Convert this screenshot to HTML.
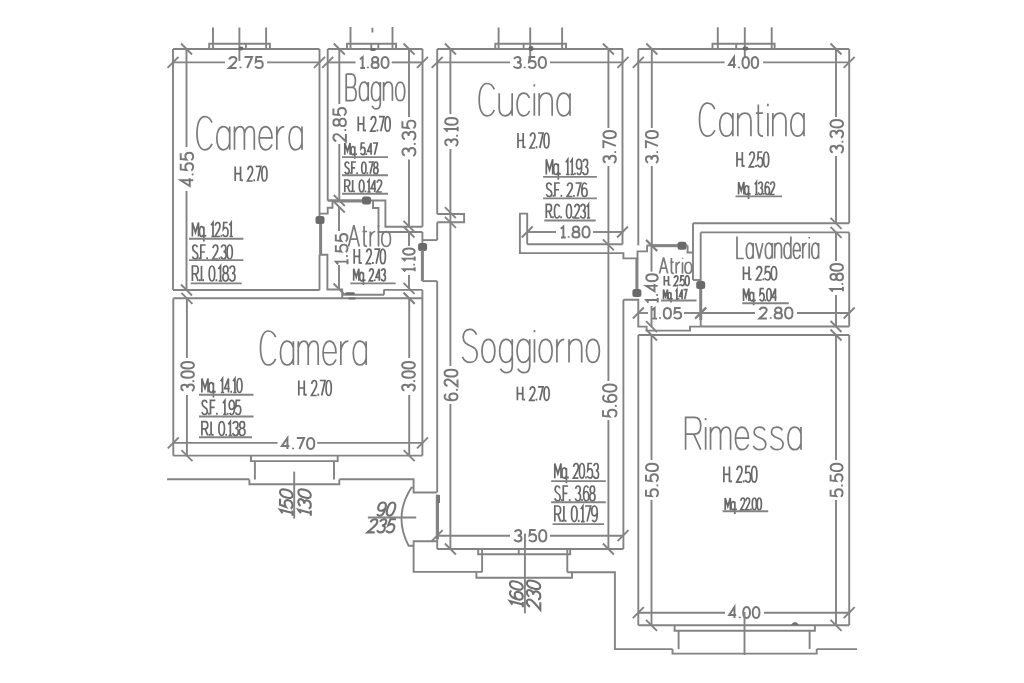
<!DOCTYPE html>
<html><head><meta charset="utf-8"><style>
html,body{margin:0;padding:0;background:#fff;}
svg{display:block;}
</style></head><body>
<svg width="1024" height="683" viewBox="0 0 1024 683" font-family="Liberation Sans, sans-serif">
<rect width="1024" height="683" fill="#fff"/>
<g stroke="#838383" stroke-width="1.9" fill="none" stroke-linecap="butt" stroke-linejoin="miter">
<line x1="173" y1="49" x2="319.5" y2="49"/>
<line x1="173" y1="49" x2="173" y2="290"/>
<line x1="319.5" y1="49" x2="319.5" y2="216"/>
<line x1="319.5" y1="254.7" x2="319.5" y2="290"/>
<rect x="315.5" y="216.0" width="9" height="8" rx="2.5" fill="#6a6a6a" stroke="none"/>
<line x1="320.6" y1="224" x2="320.6" y2="254.7" stroke-width="3"/>
<line x1="173" y1="290" x2="319.5" y2="290"/>
<line x1="173" y1="62.4" x2="225" y2="62.4"/>
<line x1="267" y1="62.4" x2="319.5" y2="62.4"/>
<line x1="186.5" y1="49" x2="186.5" y2="147"/>
<line x1="186.5" y1="191" x2="186.5" y2="290"/>
<line x1="167.5" y1="67.9" x2="178.5" y2="56.9"/>
<line x1="314.0" y1="67.9" x2="325.0" y2="56.9"/>
<line x1="181.0" y1="43.5" x2="192.0" y2="54.5"/>
<line x1="181.0" y1="284.5" x2="192.0" y2="295.5"/>
<path d="M209.2,49 L209.2,43.8 L269.9,43.8 L269.9,49"/>
<line x1="213" y1="27.5" x2="213" y2="49"/>
<line x1="239.4" y1="27.5" x2="239.4" y2="49"/>
<line x1="266.1" y1="27.5" x2="266.1" y2="49"/>
<line x1="239.4" y1="49" x2="239.4" y2="61"/>
<line x1="245.9" y1="43.9" x2="245.9" y2="49"/>
<rect x="238.5" y="46.5" width="5" height="4" rx="2.5" fill="#6a6a6a" stroke="none"/>
<g transform="translate(229,68) rotate(0) scale(1.4083,1.1000) translate(0,-10)" stroke="#777777" stroke-width="1.95" fill="none" vector-effect="non-scaling-stroke"><path vector-effect="non-scaling-stroke" transform="translate(0.00,0)" d="M0.2,2.3 C0.6,0.8 1.6,0 2.9,0 C4.4,0 5.3,1 5.3,2.6 C5.3,4.4 3.9,5.4 0,10 L5.4,10"/><path vector-effect="non-scaling-stroke" transform="translate(7.60,0)" d="M0.6,8.8 L0.6,10.2"/><path vector-effect="non-scaling-stroke" transform="translate(11.00,0)" d="M0,0 L5.4,0 L1.9,10"/><path vector-effect="non-scaling-stroke" transform="translate(18.60,0)" d="M5,0 L0.8,0 L0.4,4.6 C1,4 1.9,3.7 2.8,3.7 C4.4,3.7 5.4,4.9 5.4,6.8 C5.4,8.8 4.3,10 2.7,10 C1.5,10 0.6,9.5 0,8.5"/></g>
<g transform="translate(197,149.8) rotate(0) scale(2.6786,3.3200) translate(0,-10)" stroke="#7a7a7a" stroke-width="1.7" fill="none" vector-effect="non-scaling-stroke"><path vector-effect="non-scaling-stroke" transform="translate(0.00,0)" d="M5.6,1.8 C5,0.6 4.1,0 2.9,0 C1.1,0 0,2 0,5 C0,8 1.1,10 2.9,10 C4.1,10 5,9.4 5.6,8.2"/><path vector-effect="non-scaling-stroke" transform="translate(7.40,0)" d="M4.8,3 L4.8,10 M4.8,5 C4.4,3.7 3.5,3 2.4,3 C0.9,3 0,4.5 0,6.5 C0,8.5 0.9,10 2.4,10 C3.5,10 4.4,9.3 4.8,8"/><path vector-effect="non-scaling-stroke" transform="translate(14.00,0)" d="M0,3 L0,10 M0,5 C0.4,3.7 1.2,3 2.1,3 C3.1,3 3.7,3.8 3.7,5.2 L3.7,10 M3.7,5 C4.1,3.7 4.9,3 5.8,3 C6.8,3 7.4,3.8 7.4,5.2 L7.4,10"/><path vector-effect="non-scaling-stroke" transform="translate(23.20,0)" d="M0,6.4 L4.8,6.4 C4.8,4.4 3.8,3 2.4,3 C0.9,3 0,4.5 0,6.5 C0,8.5 0.9,10 2.4,10 C3.5,10 4.3,9.4 4.8,8.4"/><path vector-effect="non-scaling-stroke" transform="translate(29.80,0)" d="M0,3 L0,10 M0,5.6 C0.5,3.9 1.4,3 2.8,3"/><path vector-effect="non-scaling-stroke" transform="translate(34.40,0)" d="M4.8,3 L4.8,10 M4.8,5 C4.4,3.7 3.5,3 2.4,3 C0.9,3 0,4.5 0,6.5 C0,8.5 0.9,10 2.4,10 C3.5,10 4.4,9.3 4.8,8"/></g>
<g transform="translate(235.2,181) rotate(0) scale(0.9521,1.4600) translate(0,-10)" stroke="#686868" stroke-width="1.7" fill="none" vector-effect="non-scaling-stroke"><path vector-effect="non-scaling-stroke" transform="translate(0.00,0)" d="M0,0 L0,10 M5.6,0 L5.6,10 M0,5 L5.6,5"/><path vector-effect="non-scaling-stroke" transform="translate(6.60,0)" d="M0.6,8.8 L0.6,10.2"/><path vector-effect="non-scaling-stroke" transform="translate(13.00,0)" d="M0.2,2.3 C0.6,0.8 1.6,0 2.9,0 C4.4,0 5.3,1 5.3,2.6 C5.3,4.4 3.9,5.4 0,10 L5.4,10"/><path vector-effect="non-scaling-stroke" transform="translate(19.40,0)" d="M0.6,8.8 L0.6,10.2"/><path vector-effect="non-scaling-stroke" transform="translate(21.60,0)" d="M0,0 L5.4,0 L1.9,10"/><path vector-effect="non-scaling-stroke" transform="translate(28.00,0)" d="M2.7,0 C0.9,0 0,2 0,5 C0,8 0.9,10 2.7,10 C4.5,10 5.4,8 5.4,5 C5.4,2 4.5,0 2.7,0 Z"/></g>
<g transform="translate(193.2,186) rotate(-90) scale(1.3760,1.2500) translate(0,-10)" stroke="#777777" stroke-width="1.95" fill="none" vector-effect="non-scaling-stroke"><path vector-effect="non-scaling-stroke" transform="translate(0.00,0)" d="M4.2,10 L4.2,0 L0,7.2 L5.6,7.2"/><path vector-effect="non-scaling-stroke" transform="translate(7.80,0)" d="M0.6,8.8 L0.6,10.2"/><path vector-effect="non-scaling-stroke" transform="translate(11.20,0)" d="M5,0 L0.8,0 L0.4,4.6 C1,4 1.9,3.7 2.8,3.7 C4.4,3.7 5.4,4.9 5.4,6.8 C5.4,8.8 4.3,10 2.7,10 C1.5,10 0.6,9.5 0,8.5"/><path vector-effect="non-scaling-stroke" transform="translate(18.80,0)" d="M5,0 L0.8,0 L0.4,4.6 C1,4 1.9,3.7 2.8,3.7 C4.4,3.7 5.4,4.9 5.4,6.8 C5.4,8.8 4.3,10 2.7,10 C1.5,10 0.6,9.5 0,8.5"/></g>
<g transform="translate(192.4,236.5) rotate(0) scale(0.9279,1.4000) translate(0,-10)" stroke="#686868" stroke-width="1.7" fill="none" vector-effect="non-scaling-stroke"><path vector-effect="non-scaling-stroke" transform="translate(0.00,0)" d="M0,10 L0,0 L3.3,7 L6.6,0 L6.6,10"/><path vector-effect="non-scaling-stroke" transform="translate(7.60,0)" d="M4.8,3 L4.8,13.5 M4.8,5 C4.4,3.7 3.5,3 2.4,3 C0.9,3 0,4.5 0,6.5 C0,8.5 0.9,10 2.4,10 C3.5,10 4.4,9.3 4.8,8"/><path vector-effect="non-scaling-stroke" transform="translate(13.40,0)" d="M0.6,8.8 L0.6,10.2"/><path vector-effect="non-scaling-stroke" transform="translate(19.80,0)" d="M0.4,2 L2.4,0 L2.4,10 M0.6,10 L4.2,10"/><path vector-effect="non-scaling-stroke" transform="translate(24.40,0)" d="M0.2,2.3 C0.6,0.8 1.6,0 2.9,0 C4.4,0 5.3,1 5.3,2.6 C5.3,4.4 3.9,5.4 0,10 L5.4,10"/><path vector-effect="non-scaling-stroke" transform="translate(30.80,0)" d="M0.6,8.8 L0.6,10.2"/><path vector-effect="non-scaling-stroke" transform="translate(33.00,0)" d="M5,0 L0.8,0 L0.4,4.6 C1,4 1.9,3.7 2.8,3.7 C4.4,3.7 5.4,4.9 5.4,6.8 C5.4,8.8 4.3,10 2.7,10 C1.5,10 0.6,9.5 0,8.5"/><path vector-effect="non-scaling-stroke" transform="translate(39.40,0)" d="M0.4,2 L2.4,0 L2.4,10 M0.6,10 L4.2,10"/></g>
<line x1="189" y1="238.7" x2="243.4" y2="238.7"/>
<g transform="translate(192.4,259) rotate(0) scale(0.9591,1.4000) translate(0,-10)" stroke="#686868" stroke-width="1.7" fill="none" vector-effect="non-scaling-stroke"><path vector-effect="non-scaling-stroke" transform="translate(0.00,0)" d="M5.3,1.6 C4.8,0.5 3.9,0 2.8,0 C1.3,0 0.3,0.9 0.3,2.4 C0.3,5.6 5.6,4.3 5.6,7.5 C5.6,9.1 4.5,10 2.9,10 C1.6,10 0.6,9.4 0,8.3"/><path vector-effect="non-scaling-stroke" transform="translate(6.60,0)" d="M0.6,8.8 L0.6,10.2"/><path vector-effect="non-scaling-stroke" transform="translate(8.80,0)" d="M5,0 L0,0 L0,10 M0,5 L4.2,5"/><path vector-effect="non-scaling-stroke" transform="translate(14.80,0)" d="M0.6,8.8 L0.6,10.2"/><path vector-effect="non-scaling-stroke" transform="translate(21.20,0)" d="M0.2,2.3 C0.6,0.8 1.6,0 2.9,0 C4.4,0 5.3,1 5.3,2.6 C5.3,4.4 3.9,5.4 0,10 L5.4,10"/><path vector-effect="non-scaling-stroke" transform="translate(27.60,0)" d="M0.6,8.8 L0.6,10.2"/><path vector-effect="non-scaling-stroke" transform="translate(29.80,0)" d="M0.3,1.8 C0.8,0.6 1.7,0 2.9,0 C4.3,0 5.1,1 5.1,2.4 C5.1,3.9 4.1,4.8 2.5,4.8 M2.5,4.8 C4.4,4.8 5.4,5.9 5.4,7.4 C5.4,9.1 4.3,10 2.8,10 C1.5,10 0.5,9.4 0,8.3"/><path vector-effect="non-scaling-stroke" transform="translate(36.20,0)" d="M2.7,0 C0.9,0 0,2 0,5 C0,8 0.9,10 2.7,10 C4.5,10 5.4,8 5.4,5 C5.4,2 4.5,0 2.7,0 Z"/></g>
<line x1="189" y1="260.1" x2="243.4" y2="260.1"/>
<g transform="translate(192.4,281) rotate(0) scale(1.0340,1.5000) translate(0,-10)" stroke="#686868" stroke-width="1.7" fill="none" vector-effect="non-scaling-stroke"><path vector-effect="non-scaling-stroke" transform="translate(0.00,0)" d="M0,10 L0,0 L3.3,0 C4.8,0 5.6,1 5.6,2.6 C5.6,4.2 4.8,5.2 3.3,5.2 L0,5.2 M3,5.2 L5.6,10"/><path vector-effect="non-scaling-stroke" transform="translate(6.60,0)" d="M0.6,8.8 L0.6,10.2"/><path vector-effect="non-scaling-stroke" transform="translate(8.80,0)" d="M0,0 L0,10"/><path vector-effect="non-scaling-stroke" transform="translate(9.80,0)" d="M0.6,8.8 L0.6,10.2"/><path vector-effect="non-scaling-stroke" transform="translate(16.20,0)" d="M2.7,0 C0.9,0 0,2 0,5 C0,8 0.9,10 2.7,10 C4.5,10 5.4,8 5.4,5 C5.4,2 4.5,0 2.7,0 Z"/><path vector-effect="non-scaling-stroke" transform="translate(22.60,0)" d="M0.6,8.8 L0.6,10.2"/><path vector-effect="non-scaling-stroke" transform="translate(24.80,0)" d="M0.4,2 L2.4,0 L2.4,10 M0.6,10 L4.2,10"/><path vector-effect="non-scaling-stroke" transform="translate(29.40,0)" d="M2.7,4.8 C1.3,4.8 0.4,3.9 0.4,2.4 C0.4,1 1.3,0 2.7,0 C4.1,0 5,1 5,2.4 C5,3.9 4.1,4.8 2.7,4.8 C1.1,4.8 0,5.9 0,7.4 C0,9 1.1,10 2.7,10 C4.3,10 5.4,9 5.4,7.4 C5.4,5.9 4.3,4.8 2.7,4.8 Z"/><path vector-effect="non-scaling-stroke" transform="translate(35.80,0)" d="M0.3,1.8 C0.8,0.6 1.7,0 2.9,0 C4.3,0 5.1,1 5.1,2.4 C5.1,3.9 4.1,4.8 2.5,4.8 M2.5,4.8 C4.4,4.8 5.4,5.9 5.4,7.4 C5.4,9.1 4.3,10 2.8,10 C1.5,10 0.5,9.4 0,8.3"/></g>
<line x1="190.7" y1="283.4" x2="241.7" y2="283.4"/>
<line x1="327.7" y1="49" x2="327.7" y2="200.5"/>
<line x1="422.5" y1="49" x2="422.5" y2="226.8"/>
<line x1="327.7" y1="49" x2="422.5" y2="49"/>
<line x1="339.3" y1="49" x2="339.3" y2="104"/>
<line x1="339.3" y1="144" x2="339.3" y2="200.5"/>
<line x1="409" y1="49" x2="409" y2="117"/>
<line x1="409" y1="159.5" x2="409" y2="226.8"/>
<line x1="327.7" y1="62.4" x2="355.6" y2="62.4"/>
<line x1="391.7" y1="62.4" x2="422.5" y2="62.4"/>
<line x1="322.2" y1="67.9" x2="333.2" y2="56.9"/>
<line x1="417.0" y1="67.9" x2="428.0" y2="56.9"/>
<line x1="333.8" y1="43.5" x2="344.8" y2="54.5"/>
<line x1="403.5" y1="43.5" x2="414.5" y2="54.5"/>
<line x1="333.8" y1="195.0" x2="344.8" y2="206.0"/>
<line x1="333.8" y1="201.5" x2="344.8" y2="212.5"/>
<line x1="403.5" y1="220.9" x2="414.5" y2="231.9"/>
<path d="M347,49 L347,43.8 L396,43.8 L396,49"/>
<line x1="350.5" y1="27" x2="350.5" y2="49"/>
<line x1="392.5" y1="27" x2="392.5" y2="49"/>
<line x1="372.4" y1="27.8" x2="372.4" y2="32.5"/>
<line x1="371.3" y1="43.8" x2="371.3" y2="49"/>
<line x1="378.3" y1="43.8" x2="378.3" y2="49"/>
<rect x="370.0" y="48.0" width="6" height="3" rx="2.5" fill="#6a6a6a" stroke="none"/>
<g transform="translate(359.5,68) rotate(0) scale(1.3108,1.1000) translate(0,-10)" stroke="#777777" stroke-width="1.95" fill="none" vector-effect="non-scaling-stroke"><path vector-effect="non-scaling-stroke" transform="translate(0.00,0)" d="M0.4,2 L2.4,0 L2.4,10 M0.6,10 L4.2,10"/><path vector-effect="non-scaling-stroke" transform="translate(5.80,0)" d="M0.6,8.8 L0.6,10.2"/><path vector-effect="non-scaling-stroke" transform="translate(9.20,0)" d="M2.7,4.8 C1.3,4.8 0.4,3.9 0.4,2.4 C0.4,1 1.3,0 2.7,0 C4.1,0 5,1 5,2.4 C5,3.9 4.1,4.8 2.7,4.8 C1.1,4.8 0,5.9 0,7.4 C0,9 1.1,10 2.7,10 C4.3,10 5.4,9 5.4,7.4 C5.4,5.9 4.3,4.8 2.7,4.8 Z"/><path vector-effect="non-scaling-stroke" transform="translate(16.80,0)" d="M2.7,0 C0.9,0 0,2 0,5 C0,8 0.9,10 2.7,10 C4.5,10 5.4,8 5.4,5 C5.4,2 4.5,0 2.7,0 Z"/></g>
<g transform="translate(346.2,100.7) rotate(0) scale(1.8339,2.6600) translate(0,-10)" stroke="#7a7a7a" stroke-width="1.7" fill="none" vector-effect="non-scaling-stroke"><path vector-effect="non-scaling-stroke" transform="translate(0.00,0)" d="M0,0 L0,10 L3.2,10 C4.6,10 5.4,9 5.4,7.5 C5.4,6 4.6,5 3.2,5 L0,5 M3,5 C4.2,5 5,4.1 5,2.5 C5,1 4.2,0 3,0 L0,0"/><path vector-effect="non-scaling-stroke" transform="translate(7.20,0)" d="M4.8,3 L4.8,10 M4.8,5 C4.4,3.7 3.5,3 2.4,3 C0.9,3 0,4.5 0,6.5 C0,8.5 0.9,10 2.4,10 C3.5,10 4.4,9.3 4.8,8"/><path vector-effect="non-scaling-stroke" transform="translate(13.80,0)" d="M4.8,3 L4.8,11 C4.8,12.4 3.9,13.1 2.6,13.1 C1.6,13.1 0.8,12.7 0.3,11.9 M4.8,5 C4.4,3.7 3.5,3 2.4,3 C0.9,3 0,4.5 0,6.5 C0,8.5 0.9,10 2.4,10 C3.5,10 4.4,9.3 4.8,8"/><path vector-effect="non-scaling-stroke" transform="translate(20.40,0)" d="M0,3 L0,10 M0,5 C0.5,3.7 1.5,3 2.6,3 C4,3 4.8,3.8 4.8,5.4 L4.8,10"/><path vector-effect="non-scaling-stroke" transform="translate(27.00,0)" d="M2.45,3 C0.9,3 0,4.5 0,6.5 C0,8.5 0.9,10 2.45,10 C4,10 4.9,8.5 4.9,6.5 C4.9,4.5 4,3 2.45,3 Z"/></g>
<g transform="translate(358.3,131.2) rotate(0) scale(0.9551,1.4600) translate(0,-10)" stroke="#686868" stroke-width="1.7" fill="none" vector-effect="non-scaling-stroke"><path vector-effect="non-scaling-stroke" transform="translate(0.00,0)" d="M0,0 L0,10 M5.6,0 L5.6,10 M0,5 L5.6,5"/><path vector-effect="non-scaling-stroke" transform="translate(6.60,0)" d="M0.6,8.8 L0.6,10.2"/><path vector-effect="non-scaling-stroke" transform="translate(13.00,0)" d="M0.2,2.3 C0.6,0.8 1.6,0 2.9,0 C4.4,0 5.3,1 5.3,2.6 C5.3,4.4 3.9,5.4 0,10 L5.4,10"/><path vector-effect="non-scaling-stroke" transform="translate(19.40,0)" d="M0.6,8.8 L0.6,10.2"/><path vector-effect="non-scaling-stroke" transform="translate(21.60,0)" d="M0,0 L5.4,0 L1.9,10"/><path vector-effect="non-scaling-stroke" transform="translate(28.00,0)" d="M2.7,0 C0.9,0 0,2 0,5 C0,8 0.9,10 2.7,10 C4.5,10 5.4,8 5.4,5 C5.4,2 4.5,0 2.7,0 Z"/></g>
<g transform="translate(345.9,141.5) rotate(-90) scale(1.3958,1.2500) translate(0,-10)" stroke="#777777" stroke-width="1.95" fill="none" vector-effect="non-scaling-stroke"><path vector-effect="non-scaling-stroke" transform="translate(0.00,0)" d="M0.2,2.3 C0.6,0.8 1.6,0 2.9,0 C4.4,0 5.3,1 5.3,2.6 C5.3,4.4 3.9,5.4 0,10 L5.4,10"/><path vector-effect="non-scaling-stroke" transform="translate(7.60,0)" d="M0.6,8.8 L0.6,10.2"/><path vector-effect="non-scaling-stroke" transform="translate(11.00,0)" d="M2.7,4.8 C1.3,4.8 0.4,3.9 0.4,2.4 C0.4,1 1.3,0 2.7,0 C4.1,0 5,1 5,2.4 C5,3.9 4.1,4.8 2.7,4.8 C1.1,4.8 0,5.9 0,7.4 C0,9 1.1,10 2.7,10 C4.3,10 5.4,9 5.4,7.4 C5.4,5.9 4.3,4.8 2.7,4.8 Z"/><path vector-effect="non-scaling-stroke" transform="translate(18.60,0)" d="M5,0 L0.8,0 L0.4,4.6 C1,4 1.9,3.7 2.8,3.7 C4.4,3.7 5.4,4.9 5.4,6.8 C5.4,8.8 4.3,10 2.7,10 C1.5,10 0.6,9.5 0,8.5"/></g>
<g transform="translate(415.4,156) rotate(-90) scale(1.4750,1.3000) translate(0,-10)" stroke="#777777" stroke-width="1.95" fill="none" vector-effect="non-scaling-stroke"><path vector-effect="non-scaling-stroke" transform="translate(0.00,0)" d="M0.3,1.8 C0.8,0.6 1.7,0 2.9,0 C4.3,0 5.1,1 5.1,2.4 C5.1,3.9 4.1,4.8 2.5,4.8 M2.5,4.8 C4.4,4.8 5.4,5.9 5.4,7.4 C5.4,9.1 4.3,10 2.8,10 C1.5,10 0.5,9.4 0,8.3"/><path vector-effect="non-scaling-stroke" transform="translate(7.60,0)" d="M0.6,8.8 L0.6,10.2"/><path vector-effect="non-scaling-stroke" transform="translate(11.00,0)" d="M0.3,1.8 C0.8,0.6 1.7,0 2.9,0 C4.3,0 5.1,1 5.1,2.4 C5.1,3.9 4.1,4.8 2.5,4.8 M2.5,4.8 C4.4,4.8 5.4,5.9 5.4,7.4 C5.4,9.1 4.3,10 2.8,10 C1.5,10 0.5,9.4 0,8.3"/><path vector-effect="non-scaling-stroke" transform="translate(18.60,0)" d="M5,0 L0.8,0 L0.4,4.6 C1,4 1.9,3.7 2.8,3.7 C4.4,3.7 5.4,4.9 5.4,6.8 C5.4,8.8 4.3,10 2.7,10 C1.5,10 0.6,9.5 0,8.5"/></g>
<g transform="translate(344.8,154.7) rotate(0) scale(0.8045,1.1700) translate(0,-10)" stroke="#686868" stroke-width="1.7" fill="none" vector-effect="non-scaling-stroke"><path vector-effect="non-scaling-stroke" transform="translate(0.00,0)" d="M0,10 L0,0 L3.3,7 L6.6,0 L6.6,10"/><path vector-effect="non-scaling-stroke" transform="translate(7.60,0)" d="M4.8,3 L4.8,13.5 M4.8,5 C4.4,3.7 3.5,3 2.4,3 C0.9,3 0,4.5 0,6.5 C0,8.5 0.9,10 2.4,10 C3.5,10 4.4,9.3 4.8,8"/><path vector-effect="non-scaling-stroke" transform="translate(13.40,0)" d="M0.6,8.8 L0.6,10.2"/><path vector-effect="non-scaling-stroke" transform="translate(19.80,0)" d="M5,0 L0.8,0 L0.4,4.6 C1,4 1.9,3.7 2.8,3.7 C4.4,3.7 5.4,4.9 5.4,6.8 C5.4,8.8 4.3,10 2.7,10 C1.5,10 0.6,9.5 0,8.5"/><path vector-effect="non-scaling-stroke" transform="translate(26.20,0)" d="M0.6,8.8 L0.6,10.2"/><path vector-effect="non-scaling-stroke" transform="translate(28.40,0)" d="M4.2,10 L4.2,0 L0,7.2 L5.6,7.2"/><path vector-effect="non-scaling-stroke" transform="translate(35.00,0)" d="M0,0 L5.4,0 L1.9,10"/></g>
<line x1="342" y1="157.1" x2="388" y2="157.1"/>
<g transform="translate(344.8,173.7) rotate(0) scale(0.7981,1.1700) translate(0,-10)" stroke="#686868" stroke-width="1.7" fill="none" vector-effect="non-scaling-stroke"><path vector-effect="non-scaling-stroke" transform="translate(0.00,0)" d="M5.3,1.6 C4.8,0.5 3.9,0 2.8,0 C1.3,0 0.3,0.9 0.3,2.4 C0.3,5.6 5.6,4.3 5.6,7.5 C5.6,9.1 4.5,10 2.9,10 C1.6,10 0.6,9.4 0,8.3"/><path vector-effect="non-scaling-stroke" transform="translate(6.60,0)" d="M0.6,8.8 L0.6,10.2"/><path vector-effect="non-scaling-stroke" transform="translate(8.80,0)" d="M5,0 L0,0 L0,10 M0,5 L4.2,5"/><path vector-effect="non-scaling-stroke" transform="translate(14.80,0)" d="M0.6,8.8 L0.6,10.2"/><path vector-effect="non-scaling-stroke" transform="translate(21.20,0)" d="M2.7,0 C0.9,0 0,2 0,5 C0,8 0.9,10 2.7,10 C4.5,10 5.4,8 5.4,5 C5.4,2 4.5,0 2.7,0 Z"/><path vector-effect="non-scaling-stroke" transform="translate(27.60,0)" d="M0.6,8.8 L0.6,10.2"/><path vector-effect="non-scaling-stroke" transform="translate(29.80,0)" d="M0,0 L5.4,0 L1.9,10"/><path vector-effect="non-scaling-stroke" transform="translate(36.20,0)" d="M2.7,4.8 C1.3,4.8 0.4,3.9 0.4,2.4 C0.4,1 1.3,0 2.7,0 C4.1,0 5,1 5,2.4 C5,3.9 4.1,4.8 2.7,4.8 C1.1,4.8 0,5.9 0,7.4 C0,9 1.1,10 2.7,10 C4.3,10 5.4,9 5.4,7.4 C5.4,5.9 4.3,4.8 2.7,4.8 Z"/></g>
<line x1="342" y1="175.2" x2="388" y2="175.2"/>
<g transform="translate(344.8,192) rotate(0) scale(0.8913,1.2000) translate(0,-10)" stroke="#686868" stroke-width="1.7" fill="none" vector-effect="non-scaling-stroke"><path vector-effect="non-scaling-stroke" transform="translate(0.00,0)" d="M0,10 L0,0 L3.3,0 C4.8,0 5.6,1 5.6,2.6 C5.6,4.2 4.8,5.2 3.3,5.2 L0,5.2 M3,5.2 L5.6,10"/><path vector-effect="non-scaling-stroke" transform="translate(6.60,0)" d="M0.6,8.8 L0.6,10.2"/><path vector-effect="non-scaling-stroke" transform="translate(8.80,0)" d="M0,0 L0,10"/><path vector-effect="non-scaling-stroke" transform="translate(9.80,0)" d="M0.6,8.8 L0.6,10.2"/><path vector-effect="non-scaling-stroke" transform="translate(16.20,0)" d="M2.7,0 C0.9,0 0,2 0,5 C0,8 0.9,10 2.7,10 C4.5,10 5.4,8 5.4,5 C5.4,2 4.5,0 2.7,0 Z"/><path vector-effect="non-scaling-stroke" transform="translate(22.60,0)" d="M0.6,8.8 L0.6,10.2"/><path vector-effect="non-scaling-stroke" transform="translate(24.80,0)" d="M0.4,2 L2.4,0 L2.4,10 M0.6,10 L4.2,10"/><path vector-effect="non-scaling-stroke" transform="translate(29.40,0)" d="M4.2,10 L4.2,0 L0,7.2 L5.6,7.2"/><path vector-effect="non-scaling-stroke" transform="translate(36.00,0)" d="M0.2,2.3 C0.6,0.8 1.6,0 2.9,0 C4.4,0 5.3,1 5.3,2.6 C5.3,4.4 3.9,5.4 0,10 L5.4,10"/></g>
<line x1="342" y1="193.7" x2="388" y2="193.7"/>
<line x1="437.2" y1="49" x2="437.2" y2="214"/>
<path d="M437.2,214 L464.1,214 L464.1,222.2 L437.2,222.2"/>
<line x1="622.5" y1="49" x2="622.5" y2="244.3"/>
<line x1="437.2" y1="49" x2="623" y2="49"/>
<line x1="437.2" y1="62.4" x2="510" y2="62.4"/>
<line x1="550" y1="62.4" x2="623" y2="62.4"/>
<line x1="450.4" y1="49" x2="450.4" y2="114"/>
<line x1="450.4" y1="149" x2="450.4" y2="366"/>
<line x1="450.4" y1="404" x2="450.4" y2="549"/>
<line x1="608.4" y1="49" x2="608.4" y2="128"/>
<line x1="608.4" y1="166" x2="608.4" y2="381"/>
<line x1="608.4" y1="420" x2="608.4" y2="549"/>
<line x1="431.7" y1="67.9" x2="442.7" y2="56.9"/>
<line x1="617.5" y1="67.9" x2="628.5" y2="56.9"/>
<line x1="444.9" y1="43.5" x2="455.9" y2="54.5"/>
<line x1="602.9" y1="43.5" x2="613.9" y2="54.5"/>
<line x1="444.9" y1="207.2" x2="455.9" y2="218.2"/>
<line x1="444.9" y1="216.9" x2="455.9" y2="227.9"/>
<line x1="602.9" y1="239.4" x2="613.9" y2="250.4"/>
<path d="M495.3,49 L495.3,43.7 L566,43.7 L566,49"/>
<line x1="498.6" y1="27.5" x2="498.6" y2="49"/>
<line x1="530.2" y1="27.5" x2="530.2" y2="49"/>
<line x1="562.1" y1="27.5" x2="562.1" y2="49"/>
<line x1="530.2" y1="49" x2="530.2" y2="60"/>
<line x1="523.6" y1="43.7" x2="523.6" y2="49"/>
<rect x="528.5" y="46.0" width="5" height="5" rx="2.5" fill="#6a6a6a" stroke="none"/>
<g transform="translate(513.6,68) rotate(0) scale(1.3500,1.1000) translate(0,-10)" stroke="#777777" stroke-width="1.95" fill="none" vector-effect="non-scaling-stroke"><path vector-effect="non-scaling-stroke" transform="translate(0.00,0)" d="M0.3,1.8 C0.8,0.6 1.7,0 2.9,0 C4.3,0 5.1,1 5.1,2.4 C5.1,3.9 4.1,4.8 2.5,4.8 M2.5,4.8 C4.4,4.8 5.4,5.9 5.4,7.4 C5.4,9.1 4.3,10 2.8,10 C1.5,10 0.5,9.4 0,8.3"/><path vector-effect="non-scaling-stroke" transform="translate(7.60,0)" d="M0.6,8.8 L0.6,10.2"/><path vector-effect="non-scaling-stroke" transform="translate(11.00,0)" d="M5,0 L0.8,0 L0.4,4.6 C1,4 1.9,3.7 2.8,3.7 C4.4,3.7 5.4,4.9 5.4,6.8 C5.4,8.8 4.3,10 2.7,10 C1.5,10 0.6,9.5 0,8.5"/><path vector-effect="non-scaling-stroke" transform="translate(18.60,0)" d="M2.7,0 C0.9,0 0,2 0,5 C0,8 0.9,10 2.7,10 C4.5,10 5.4,8 5.4,5 C5.4,2 4.5,0 2.7,0 Z"/></g>
<g transform="translate(479.2,115.8) rotate(0) scale(2.7024,3.2300) translate(0,-10)" stroke="#7a7a7a" stroke-width="1.7" fill="none" vector-effect="non-scaling-stroke"><path vector-effect="non-scaling-stroke" transform="translate(0.00,0)" d="M5.6,1.8 C5,0.6 4.1,0 2.9,0 C1.1,0 0,2 0,5 C0,8 1.1,10 2.9,10 C4.1,10 5,9.4 5.6,8.2"/><path vector-effect="non-scaling-stroke" transform="translate(7.40,0)" d="M0,3 L0,7.7 C0,9.2 0.8,10 2.2,10 C3.3,10 4.3,9.3 4.8,8 M4.8,3 L4.8,10"/><path vector-effect="non-scaling-stroke" transform="translate(14.00,0)" d="M4.6,4.5 C4.1,3.5 3.4,3 2.4,3 C0.9,3 0,4.5 0,6.5 C0,8.5 0.9,10 2.4,10 C3.4,10 4.1,9.5 4.6,8.5"/><path vector-effect="non-scaling-stroke" transform="translate(20.40,0)" d="M0,3 L0,10 M0,0.2 L0,0.9"/><path vector-effect="non-scaling-stroke" transform="translate(22.20,0)" d="M0,3 L0,10 M0,5 C0.5,3.7 1.5,3 2.6,3 C4,3 4.8,3.8 4.8,5.4 L4.8,10"/><path vector-effect="non-scaling-stroke" transform="translate(28.80,0)" d="M4.8,3 L4.8,10 M4.8,5 C4.4,3.7 3.5,3 2.4,3 C0.9,3 0,4.5 0,6.5 C0,8.5 0.9,10 2.4,10 C3.5,10 4.4,9.3 4.8,8"/></g>
<g transform="translate(518,148) rotate(0) scale(0.9281,1.5000) translate(0,-10)" stroke="#686868" stroke-width="1.7" fill="none" vector-effect="non-scaling-stroke"><path vector-effect="non-scaling-stroke" transform="translate(0.00,0)" d="M0,0 L0,10 M5.6,0 L5.6,10 M0,5 L5.6,5"/><path vector-effect="non-scaling-stroke" transform="translate(6.60,0)" d="M0.6,8.8 L0.6,10.2"/><path vector-effect="non-scaling-stroke" transform="translate(13.00,0)" d="M0.2,2.3 C0.6,0.8 1.6,0 2.9,0 C4.4,0 5.3,1 5.3,2.6 C5.3,4.4 3.9,5.4 0,10 L5.4,10"/><path vector-effect="non-scaling-stroke" transform="translate(19.40,0)" d="M0.6,8.8 L0.6,10.2"/><path vector-effect="non-scaling-stroke" transform="translate(21.60,0)" d="M0,0 L5.4,0 L1.9,10"/><path vector-effect="non-scaling-stroke" transform="translate(28.00,0)" d="M2.7,0 C0.9,0 0,2 0,5 C0,8 0.9,10 2.7,10 C4.5,10 5.4,8 5.4,5 C5.4,2 4.5,0 2.7,0 Z"/></g>
<g transform="translate(457.7,146) rotate(-90) scale(1.2613,1.2500) translate(0,-10)" stroke="#777777" stroke-width="1.95" fill="none" vector-effect="non-scaling-stroke"><path vector-effect="non-scaling-stroke" transform="translate(0.00,0)" d="M0.3,1.8 C0.8,0.6 1.7,0 2.9,0 C4.3,0 5.1,1 5.1,2.4 C5.1,3.9 4.1,4.8 2.5,4.8 M2.5,4.8 C4.4,4.8 5.4,5.9 5.4,7.4 C5.4,9.1 4.3,10 2.8,10 C1.5,10 0.5,9.4 0,8.3"/><path vector-effect="non-scaling-stroke" transform="translate(7.60,0)" d="M0.6,8.8 L0.6,10.2"/><path vector-effect="non-scaling-stroke" transform="translate(11.00,0)" d="M0.4,2 L2.4,0 L2.4,10 M0.6,10 L4.2,10"/><path vector-effect="non-scaling-stroke" transform="translate(16.80,0)" d="M2.7,0 C0.9,0 0,2 0,5 C0,8 0.9,10 2.7,10 C4.5,10 5.4,8 5.4,5 C5.4,2 4.5,0 2.7,0 Z"/></g>
<g transform="translate(615.9,163) rotate(-90) scale(1.3333,1.2500) translate(0,-10)" stroke="#777777" stroke-width="1.95" fill="none" vector-effect="non-scaling-stroke"><path vector-effect="non-scaling-stroke" transform="translate(0.00,0)" d="M0.3,1.8 C0.8,0.6 1.7,0 2.9,0 C4.3,0 5.1,1 5.1,2.4 C5.1,3.9 4.1,4.8 2.5,4.8 M2.5,4.8 C4.4,4.8 5.4,5.9 5.4,7.4 C5.4,9.1 4.3,10 2.8,10 C1.5,10 0.5,9.4 0,8.3"/><path vector-effect="non-scaling-stroke" transform="translate(7.60,0)" d="M0.6,8.8 L0.6,10.2"/><path vector-effect="non-scaling-stroke" transform="translate(11.00,0)" d="M0,0 L5.4,0 L1.9,10"/><path vector-effect="non-scaling-stroke" transform="translate(18.60,0)" d="M2.7,0 C0.9,0 0,2 0,5 C0,8 0.9,10 2.7,10 C4.5,10 5.4,8 5.4,5 C5.4,2 4.5,0 2.7,0 Z"/></g>
<g transform="translate(546.3,174.5) rotate(0) scale(0.9674,1.5200) translate(0,-10)" stroke="#686868" stroke-width="1.7" fill="none" vector-effect="non-scaling-stroke"><path vector-effect="non-scaling-stroke" transform="translate(0.00,0)" d="M0,10 L0,0 L3.3,7 L6.6,0 L6.6,10"/><path vector-effect="non-scaling-stroke" transform="translate(7.60,0)" d="M4.8,3 L4.8,13.5 M4.8,5 C4.4,3.7 3.5,3 2.4,3 C0.9,3 0,4.5 0,6.5 C0,8.5 0.9,10 2.4,10 C3.5,10 4.4,9.3 4.8,8"/><path vector-effect="non-scaling-stroke" transform="translate(13.40,0)" d="M0.6,8.8 L0.6,10.2"/><path vector-effect="non-scaling-stroke" transform="translate(19.80,0)" d="M0.4,2 L2.4,0 L2.4,10 M0.6,10 L4.2,10"/><path vector-effect="non-scaling-stroke" transform="translate(24.40,0)" d="M0.4,2 L2.4,0 L2.4,10 M0.6,10 L4.2,10"/><path vector-effect="non-scaling-stroke" transform="translate(29.00,0)" d="M0.6,8.8 L0.6,10.2"/><path vector-effect="non-scaling-stroke" transform="translate(31.20,0)" d="M0.5,8.8 C1,9.6 1.8,10 2.6,10 C4.4,10 5.4,8 5.4,4.5 C5.4,1.5 4.4,0 2.6,0 C1,0 0,1.3 0,3.2 C0,5 1,6.3 2.6,6.3 C3.9,6.3 4.9,5.5 5.4,4.2"/><path vector-effect="non-scaling-stroke" transform="translate(37.60,0)" d="M0.3,1.8 C0.8,0.6 1.7,0 2.9,0 C4.3,0 5.1,1 5.1,2.4 C5.1,3.9 4.1,4.8 2.5,4.8 M2.5,4.8 C4.4,4.8 5.4,5.9 5.4,7.4 C5.4,9.1 4.3,10 2.8,10 C1.5,10 0.5,9.4 0,8.3"/></g>
<line x1="543.1" y1="176.9" x2="596.9" y2="176.9"/>
<g transform="translate(546.3,196.5) rotate(0) scale(0.9808,1.3500) translate(0,-10)" stroke="#686868" stroke-width="1.7" fill="none" vector-effect="non-scaling-stroke"><path vector-effect="non-scaling-stroke" transform="translate(0.00,0)" d="M5.3,1.6 C4.8,0.5 3.9,0 2.8,0 C1.3,0 0.3,0.9 0.3,2.4 C0.3,5.6 5.6,4.3 5.6,7.5 C5.6,9.1 4.5,10 2.9,10 C1.6,10 0.6,9.4 0,8.3"/><path vector-effect="non-scaling-stroke" transform="translate(6.60,0)" d="M0.6,8.8 L0.6,10.2"/><path vector-effect="non-scaling-stroke" transform="translate(8.80,0)" d="M5,0 L0,0 L0,10 M0,5 L4.2,5"/><path vector-effect="non-scaling-stroke" transform="translate(14.80,0)" d="M0.6,8.8 L0.6,10.2"/><path vector-effect="non-scaling-stroke" transform="translate(21.20,0)" d="M0.2,2.3 C0.6,0.8 1.6,0 2.9,0 C4.4,0 5.3,1 5.3,2.6 C5.3,4.4 3.9,5.4 0,10 L5.4,10"/><path vector-effect="non-scaling-stroke" transform="translate(27.60,0)" d="M0.6,8.8 L0.6,10.2"/><path vector-effect="non-scaling-stroke" transform="translate(29.80,0)" d="M0,0 L5.4,0 L1.9,10"/><path vector-effect="non-scaling-stroke" transform="translate(36.20,0)" d="M4.9,1.2 C4.4,0.4 3.6,0 2.8,0 C1,0 0,2 0,5.5 C0,8.5 1,10 2.8,10 C4.4,10 5.4,8.7 5.4,6.8 C5.4,5 4.4,3.7 2.8,3.7 C1.5,3.7 0.5,4.5 0,5.8"/></g>
<line x1="543.1" y1="198.4" x2="596.9" y2="198.4"/>
<g transform="translate(546.3,218) rotate(0) scale(0.9252,1.3700) translate(0,-10)" stroke="#686868" stroke-width="1.7" fill="none" vector-effect="non-scaling-stroke"><path vector-effect="non-scaling-stroke" transform="translate(0.00,0)" d="M0,10 L0,0 L3.3,0 C4.8,0 5.6,1 5.6,2.6 C5.6,4.2 4.8,5.2 3.3,5.2 L0,5.2 M3,5.2 L5.6,10"/><path vector-effect="non-scaling-stroke" transform="translate(6.60,0)" d="M0.6,8.8 L0.6,10.2"/><path vector-effect="non-scaling-stroke" transform="translate(8.80,0)" d="M5.6,1.8 C5,0.6 4.1,0 2.9,0 C1.1,0 0,2 0,5 C0,8 1.1,10 2.9,10 C4.1,10 5,9.4 5.6,8.2"/><path vector-effect="non-scaling-stroke" transform="translate(15.40,0)" d="M0.6,8.8 L0.6,10.2"/><path vector-effect="non-scaling-stroke" transform="translate(21.80,0)" d="M2.7,0 C0.9,0 0,2 0,5 C0,8 0.9,10 2.7,10 C4.5,10 5.4,8 5.4,5 C5.4,2 4.5,0 2.7,0 Z"/><path vector-effect="non-scaling-stroke" transform="translate(28.20,0)" d="M0.6,8.8 L0.6,10.2"/><path vector-effect="non-scaling-stroke" transform="translate(30.40,0)" d="M0.2,2.3 C0.6,0.8 1.6,0 2.9,0 C4.4,0 5.3,1 5.3,2.6 C5.3,4.4 3.9,5.4 0,10 L5.4,10"/><path vector-effect="non-scaling-stroke" transform="translate(36.80,0)" d="M0.3,1.8 C0.8,0.6 1.7,0 2.9,0 C4.3,0 5.1,1 5.1,2.4 C5.1,3.9 4.1,4.8 2.5,4.8 M2.5,4.8 C4.4,4.8 5.4,5.9 5.4,7.4 C5.4,9.1 4.3,10 2.8,10 C1.5,10 0.5,9.4 0,8.3"/><path vector-effect="non-scaling-stroke" transform="translate(43.20,0)" d="M0.4,2 L2.4,0 L2.4,10 M0.6,10 L4.2,10"/></g>
<line x1="544.3" y1="220.5" x2="595.7" y2="220.5"/>
<path d="M527.2,244.3 L527.2,213.6 L519.9,213.6 L519.9,253.1 L527,253.1"/>
<line x1="527.2" y1="244.3" x2="622.5" y2="244.3"/>
<line x1="527.2" y1="232" x2="556" y2="232"/>
<line x1="593" y1="232" x2="622.5" y2="232"/>
<line x1="521.7" y1="237.5" x2="532.7" y2="226.5"/>
<line x1="617.0" y1="237.5" x2="628.0" y2="226.5"/>
<g transform="translate(560.2,237.5) rotate(0) scale(1.3243,1.1000) translate(0,-10)" stroke="#777777" stroke-width="1.95" fill="none" vector-effect="non-scaling-stroke"><path vector-effect="non-scaling-stroke" transform="translate(0.00,0)" d="M0.4,2 L2.4,0 L2.4,10 M0.6,10 L4.2,10"/><path vector-effect="non-scaling-stroke" transform="translate(5.80,0)" d="M0.6,8.8 L0.6,10.2"/><path vector-effect="non-scaling-stroke" transform="translate(9.20,0)" d="M2.7,4.8 C1.3,4.8 0.4,3.9 0.4,2.4 C0.4,1 1.3,0 2.7,0 C4.1,0 5,1 5,2.4 C5,3.9 4.1,4.8 2.7,4.8 C1.1,4.8 0,5.9 0,7.4 C0,9 1.1,10 2.7,10 C4.3,10 5.4,9 5.4,7.4 C5.4,5.9 4.3,4.8 2.7,4.8 Z"/><path vector-effect="non-scaling-stroke" transform="translate(16.80,0)" d="M2.7,0 C0.9,0 0,2 0,5 C0,8 0.9,10 2.7,10 C4.5,10 5.4,8 5.4,5 C5.4,2 4.5,0 2.7,0 Z"/></g>
<line x1="638.3" y1="49" x2="638.3" y2="245.3"/>
<line x1="849.2" y1="49" x2="849.2" y2="223.3"/>
<line x1="638.3" y1="49" x2="849.2" y2="49"/>
<line x1="693" y1="223.3" x2="849.2" y2="223.3"/>
<line x1="693" y1="223.3" x2="693" y2="280"/>
<line x1="651.8" y1="49" x2="651.8" y2="128"/>
<line x1="651.8" y1="166" x2="651.8" y2="245.3"/>
<line x1="836" y1="49" x2="836" y2="117"/>
<line x1="836" y1="156" x2="836" y2="223.3"/>
<line x1="638.3" y1="62.4" x2="724.7" y2="62.4"/>
<line x1="763.1" y1="62.4" x2="849.2" y2="62.4"/>
<line x1="632.8" y1="67.9" x2="643.8" y2="56.9"/>
<line x1="843.7" y1="67.9" x2="854.7" y2="56.9"/>
<line x1="646.3" y1="43.5" x2="657.3" y2="54.5"/>
<line x1="830.5" y1="43.5" x2="841.5" y2="54.5"/>
<line x1="830.5" y1="217.8" x2="841.5" y2="228.8"/>
<line x1="646.3" y1="239.8" x2="657.3" y2="250.8"/>
<path d="M712.5,49 L712.5,43.7 L774.6,43.7 L774.6,49"/>
<line x1="717.8" y1="27.3" x2="717.8" y2="49"/>
<line x1="744.8" y1="27.3" x2="744.8" y2="49"/>
<line x1="771.7" y1="27.3" x2="771.7" y2="49"/>
<line x1="744.8" y1="49" x2="744.8" y2="58"/>
<line x1="736.2" y1="43.7" x2="736.2" y2="49"/>
<rect x="742.5" y="46.5" width="6" height="4" rx="2.5" fill="#6a6a6a" stroke="none"/>
<g transform="translate(728.9,68) rotate(0) scale(1.2107,1.1000) translate(0,-10)" stroke="#777777" stroke-width="1.95" fill="none" vector-effect="non-scaling-stroke"><path vector-effect="non-scaling-stroke" transform="translate(0.00,0)" d="M4.2,10 L4.2,0 L0,7.2 L5.6,7.2"/><path vector-effect="non-scaling-stroke" transform="translate(7.80,0)" d="M0.6,8.8 L0.6,10.2"/><path vector-effect="non-scaling-stroke" transform="translate(11.20,0)" d="M2.7,0 C0.9,0 0,2 0,5 C0,8 0.9,10 2.7,10 C4.5,10 5.4,8 5.4,5 C5.4,2 4.5,0 2.7,0 Z"/><path vector-effect="non-scaling-stroke" transform="translate(18.80,0)" d="M2.7,0 C0.9,0 0,2 0,5 C0,8 0.9,10 2.7,10 C4.5,10 5.4,8 5.4,5 C5.4,2 4.5,0 2.7,0 Z"/></g>
<g transform="translate(699.5,136.2) rotate(0) scale(2.7356,3.3000) translate(0,-10)" stroke="#7a7a7a" stroke-width="1.7" fill="none" vector-effect="non-scaling-stroke"><path vector-effect="non-scaling-stroke" transform="translate(0.00,0)" d="M5.6,1.8 C5,0.6 4.1,0 2.9,0 C1.1,0 0,2 0,5 C0,8 1.1,10 2.9,10 C4.1,10 5,9.4 5.6,8.2"/><path vector-effect="non-scaling-stroke" transform="translate(7.40,0)" d="M4.8,3 L4.8,10 M4.8,5 C4.4,3.7 3.5,3 2.4,3 C0.9,3 0,4.5 0,6.5 C0,8.5 0.9,10 2.4,10 C3.5,10 4.4,9.3 4.8,8"/><path vector-effect="non-scaling-stroke" transform="translate(14.00,0)" d="M0,3 L0,10 M0,5 C0.5,3.7 1.5,3 2.6,3 C4,3 4.8,3.8 4.8,5.4 L4.8,10"/><path vector-effect="non-scaling-stroke" transform="translate(20.60,0)" d="M0.9,0.4 L0.9,8.6 C0.9,9.5 1.4,10 2.6,10 M0,3 L2.6,3"/><path vector-effect="non-scaling-stroke" transform="translate(25.00,0)" d="M0,3 L0,10 M0,0.2 L0,0.9"/><path vector-effect="non-scaling-stroke" transform="translate(26.80,0)" d="M0,3 L0,10 M0,5 C0.5,3.7 1.5,3 2.6,3 C4,3 4.8,3.8 4.8,5.4 L4.8,10"/><path vector-effect="non-scaling-stroke" transform="translate(33.40,0)" d="M4.8,3 L4.8,10 M4.8,5 C4.4,3.7 3.5,3 2.4,3 C0.9,3 0,4.5 0,6.5 C0,8.5 0.9,10 2.4,10 C3.5,10 4.4,9.3 4.8,8"/></g>
<g transform="translate(737,166.8) rotate(0) scale(0.9491,1.4800) translate(0,-10)" stroke="#686868" stroke-width="1.7" fill="none" vector-effect="non-scaling-stroke"><path vector-effect="non-scaling-stroke" transform="translate(0.00,0)" d="M0,0 L0,10 M5.6,0 L5.6,10 M0,5 L5.6,5"/><path vector-effect="non-scaling-stroke" transform="translate(6.60,0)" d="M0.6,8.8 L0.6,10.2"/><path vector-effect="non-scaling-stroke" transform="translate(13.00,0)" d="M0.2,2.3 C0.6,0.8 1.6,0 2.9,0 C4.4,0 5.3,1 5.3,2.6 C5.3,4.4 3.9,5.4 0,10 L5.4,10"/><path vector-effect="non-scaling-stroke" transform="translate(19.40,0)" d="M0.6,8.8 L0.6,10.2"/><path vector-effect="non-scaling-stroke" transform="translate(21.60,0)" d="M5,0 L0.8,0 L0.4,4.6 C1,4 1.9,3.7 2.8,3.7 C4.4,3.7 5.4,4.9 5.4,6.8 C5.4,8.8 4.3,10 2.7,10 C1.5,10 0.6,9.5 0,8.5"/><path vector-effect="non-scaling-stroke" transform="translate(28.00,0)" d="M2.7,0 C0.9,0 0,2 0,5 C0,8 0.9,10 2.7,10 C4.5,10 5.4,8 5.4,5 C5.4,2 4.5,0 2.7,0 Z"/></g>
<g transform="translate(738.6,194.5) rotate(0) scale(0.8036,1.2500) translate(0,-10)" stroke="#686868" stroke-width="1.7" fill="none" vector-effect="non-scaling-stroke"><path vector-effect="non-scaling-stroke" transform="translate(0.00,0)" d="M0,10 L0,0 L3.3,7 L6.6,0 L6.6,10"/><path vector-effect="non-scaling-stroke" transform="translate(7.60,0)" d="M4.8,3 L4.8,13.5 M4.8,5 C4.4,3.7 3.5,3 2.4,3 C0.9,3 0,4.5 0,6.5 C0,8.5 0.9,10 2.4,10 C3.5,10 4.4,9.3 4.8,8"/><path vector-effect="non-scaling-stroke" transform="translate(13.40,0)" d="M0.6,8.8 L0.6,10.2"/><path vector-effect="non-scaling-stroke" transform="translate(19.80,0)" d="M0.4,2 L2.4,0 L2.4,10 M0.6,10 L4.2,10"/><path vector-effect="non-scaling-stroke" transform="translate(24.40,0)" d="M0.3,1.8 C0.8,0.6 1.7,0 2.9,0 C4.3,0 5.1,1 5.1,2.4 C5.1,3.9 4.1,4.8 2.5,4.8 M2.5,4.8 C4.4,4.8 5.4,5.9 5.4,7.4 C5.4,9.1 4.3,10 2.8,10 C1.5,10 0.5,9.4 0,8.3"/><path vector-effect="non-scaling-stroke" transform="translate(30.80,0)" d="M0.6,8.8 L0.6,10.2"/><path vector-effect="non-scaling-stroke" transform="translate(33.00,0)" d="M4.9,1.2 C4.4,0.4 3.6,0 2.8,0 C1,0 0,2 0,5.5 C0,8.5 1,10 2.8,10 C4.4,10 5.4,8.7 5.4,6.8 C5.4,5 4.4,3.7 2.8,3.7 C1.5,3.7 0.5,4.5 0,5.8"/><path vector-effect="non-scaling-stroke" transform="translate(39.40,0)" d="M0.2,2.3 C0.6,0.8 1.6,0 2.9,0 C4.4,0 5.3,1 5.3,2.6 C5.3,4.4 3.9,5.4 0,10 L5.4,10"/></g>
<line x1="735.5" y1="196.4" x2="782" y2="196.4"/>
<g transform="translate(657.9,163) rotate(-90) scale(1.3333,1.2000) translate(0,-10)" stroke="#777777" stroke-width="1.95" fill="none" vector-effect="non-scaling-stroke"><path vector-effect="non-scaling-stroke" transform="translate(0.00,0)" d="M0.3,1.8 C0.8,0.6 1.7,0 2.9,0 C4.3,0 5.1,1 5.1,2.4 C5.1,3.9 4.1,4.8 2.5,4.8 M2.5,4.8 C4.4,4.8 5.4,5.9 5.4,7.4 C5.4,9.1 4.3,10 2.8,10 C1.5,10 0.5,9.4 0,8.3"/><path vector-effect="non-scaling-stroke" transform="translate(7.60,0)" d="M0.6,8.8 L0.6,10.2"/><path vector-effect="non-scaling-stroke" transform="translate(11.00,0)" d="M0,0 L5.4,0 L1.9,10"/><path vector-effect="non-scaling-stroke" transform="translate(18.60,0)" d="M2.7,0 C0.9,0 0,2 0,5 C0,8 0.9,10 2.7,10 C4.5,10 5.4,8 5.4,5 C5.4,2 4.5,0 2.7,0 Z"/></g>
<g transform="translate(843.1,153) rotate(-90) scale(1.3750,1.2700) translate(0,-10)" stroke="#777777" stroke-width="1.95" fill="none" vector-effect="non-scaling-stroke"><path vector-effect="non-scaling-stroke" transform="translate(0.00,0)" d="M0.3,1.8 C0.8,0.6 1.7,0 2.9,0 C4.3,0 5.1,1 5.1,2.4 C5.1,3.9 4.1,4.8 2.5,4.8 M2.5,4.8 C4.4,4.8 5.4,5.9 5.4,7.4 C5.4,9.1 4.3,10 2.8,10 C1.5,10 0.5,9.4 0,8.3"/><path vector-effect="non-scaling-stroke" transform="translate(7.60,0)" d="M0.6,8.8 L0.6,10.2"/><path vector-effect="non-scaling-stroke" transform="translate(11.00,0)" d="M0.3,1.8 C0.8,0.6 1.7,0 2.9,0 C4.3,0 5.1,1 5.1,2.4 C5.1,3.9 4.1,4.8 2.5,4.8 M2.5,4.8 C4.4,4.8 5.4,5.9 5.4,7.4 C5.4,9.1 4.3,10 2.8,10 C1.5,10 0.5,9.4 0,8.3"/><path vector-effect="non-scaling-stroke" transform="translate(18.60,0)" d="M2.7,0 C0.9,0 0,2 0,5 C0,8 0.9,10 2.7,10 C4.5,10 5.4,8 5.4,5 C5.4,2 4.5,0 2.7,0 Z"/></g>
<line x1="700.7" y1="232.4" x2="849.2" y2="232.4"/>
<line x1="849.2" y1="232.4" x2="849.2" y2="326.5"/>
<line x1="700.7" y1="326.5" x2="849.2" y2="326.5"/>
<line x1="700.7" y1="232.4" x2="700.7" y2="281"/>
<rect x="696.2" y="281.0" width="9" height="8" rx="2.5" fill="#6a6a6a" stroke="none"/>
<line x1="700.7" y1="289" x2="700.7" y2="320" stroke-width="3"/>
<line x1="700.7" y1="320" x2="700.7" y2="326.5"/>
<line x1="693" y1="280" x2="700.7" y2="280"/>
<line x1="836" y1="232.4" x2="836" y2="261"/>
<line x1="836" y1="295" x2="836" y2="326.5"/>
<line x1="700.7" y1="313" x2="755" y2="313"/>
<line x1="797" y1="313" x2="849.2" y2="313"/>
<line x1="830.5" y1="226.9" x2="841.5" y2="237.9"/>
<line x1="830.5" y1="321.0" x2="841.5" y2="332.0"/>
<line x1="695.2" y1="318.5" x2="706.2" y2="307.5"/>
<line x1="843.7" y1="318.5" x2="854.7" y2="307.5"/>
<g transform="translate(737,258.5) rotate(0) scale(1.4167,2.2000) translate(0,-10)" stroke="#7a7a7a" stroke-width="1.7" fill="none" vector-effect="non-scaling-stroke"><path vector-effect="non-scaling-stroke" transform="translate(0.00,0)" d="M0,0 L0,10 L4.8,10"/><path vector-effect="non-scaling-stroke" transform="translate(6.60,0)" d="M4.8,3 L4.8,10 M4.8,5 C4.4,3.7 3.5,3 2.4,3 C0.9,3 0,4.5 0,6.5 C0,8.5 0.9,10 2.4,10 C3.5,10 4.4,9.3 4.8,8"/><path vector-effect="non-scaling-stroke" transform="translate(13.20,0)" d="M0,3 L2.5,10 L5,3"/><path vector-effect="non-scaling-stroke" transform="translate(20.00,0)" d="M4.8,3 L4.8,10 M4.8,5 C4.4,3.7 3.5,3 2.4,3 C0.9,3 0,4.5 0,6.5 C0,8.5 0.9,10 2.4,10 C3.5,10 4.4,9.3 4.8,8"/><path vector-effect="non-scaling-stroke" transform="translate(26.60,0)" d="M0,3 L0,10 M0,5 C0.5,3.7 1.5,3 2.6,3 C4,3 4.8,3.8 4.8,5.4 L4.8,10"/><path vector-effect="non-scaling-stroke" transform="translate(33.20,0)" d="M4.8,0 L4.8,10 M4.8,5 C4.4,3.7 3.5,3 2.4,3 C0.9,3 0,4.5 0,6.5 C0,8.5 0.9,10 2.4,10 C3.5,10 4.4,9.3 4.8,8"/><path vector-effect="non-scaling-stroke" transform="translate(39.80,0)" d="M0,6.4 L4.8,6.4 C4.8,4.4 3.8,3 2.4,3 C0.9,3 0,4.5 0,6.5 C0,8.5 0.9,10 2.4,10 C3.5,10 4.3,9.4 4.8,8.4"/><path vector-effect="non-scaling-stroke" transform="translate(46.40,0)" d="M0,3 L0,10 M0,5.6 C0.5,3.9 1.4,3 2.8,3"/><path vector-effect="non-scaling-stroke" transform="translate(51.00,0)" d="M0,3 L0,10 M0,0.2 L0,0.9"/><path vector-effect="non-scaling-stroke" transform="translate(52.80,0)" d="M4.8,3 L4.8,10 M4.8,5 C4.4,3.7 3.5,3 2.4,3 C0.9,3 0,4.5 0,6.5 C0,8.5 0.9,10 2.4,10 C3.5,10 4.4,9.3 4.8,8"/></g>
<g transform="translate(743.5,280) rotate(0) scale(0.9910,1.3400) translate(0,-10)" stroke="#686868" stroke-width="1.7" fill="none" vector-effect="non-scaling-stroke"><path vector-effect="non-scaling-stroke" transform="translate(0.00,0)" d="M0,0 L0,10 M5.6,0 L5.6,10 M0,5 L5.6,5"/><path vector-effect="non-scaling-stroke" transform="translate(6.60,0)" d="M0.6,8.8 L0.6,10.2"/><path vector-effect="non-scaling-stroke" transform="translate(13.00,0)" d="M0.2,2.3 C0.6,0.8 1.6,0 2.9,0 C4.4,0 5.3,1 5.3,2.6 C5.3,4.4 3.9,5.4 0,10 L5.4,10"/><path vector-effect="non-scaling-stroke" transform="translate(19.40,0)" d="M0.6,8.8 L0.6,10.2"/><path vector-effect="non-scaling-stroke" transform="translate(21.60,0)" d="M5,0 L0.8,0 L0.4,4.6 C1,4 1.9,3.7 2.8,3.7 C4.4,3.7 5.4,4.9 5.4,6.8 C5.4,8.8 4.3,10 2.7,10 C1.5,10 0.6,9.5 0,8.5"/><path vector-effect="non-scaling-stroke" transform="translate(28.00,0)" d="M2.7,0 C0.9,0 0,2 0,5 C0,8 0.9,10 2.7,10 C4.5,10 5.4,8 5.4,5 C5.4,2 4.5,0 2.7,0 Z"/></g>
<g transform="translate(743.5,300.9) rotate(0) scale(0.8193,1.2300) translate(0,-10)" stroke="#686868" stroke-width="1.7" fill="none" vector-effect="non-scaling-stroke"><path vector-effect="non-scaling-stroke" transform="translate(0.00,0)" d="M0,10 L0,0 L3.3,7 L6.6,0 L6.6,10"/><path vector-effect="non-scaling-stroke" transform="translate(7.60,0)" d="M4.8,3 L4.8,13.5 M4.8,5 C4.4,3.7 3.5,3 2.4,3 C0.9,3 0,4.5 0,6.5 C0,8.5 0.9,10 2.4,10 C3.5,10 4.4,9.3 4.8,8"/><path vector-effect="non-scaling-stroke" transform="translate(13.40,0)" d="M0.6,8.8 L0.6,10.2"/><path vector-effect="non-scaling-stroke" transform="translate(19.80,0)" d="M5,0 L0.8,0 L0.4,4.6 C1,4 1.9,3.7 2.8,3.7 C4.4,3.7 5.4,4.9 5.4,6.8 C5.4,8.8 4.3,10 2.7,10 C1.5,10 0.6,9.5 0,8.5"/><path vector-effect="non-scaling-stroke" transform="translate(26.20,0)" d="M0.6,8.8 L0.6,10.2"/><path vector-effect="non-scaling-stroke" transform="translate(28.40,0)" d="M2.7,0 C0.9,0 0,2 0,5 C0,8 0.9,10 2.7,10 C4.5,10 5.4,8 5.4,5 C5.4,2 4.5,0 2.7,0 Z"/><path vector-effect="non-scaling-stroke" transform="translate(34.80,0)" d="M4.2,10 L4.2,0 L0,7.2 L5.6,7.2"/></g>
<line x1="742.3" y1="303.3" x2="788.8" y2="303.3"/>
<g transform="translate(759.4,318.5) rotate(0) scale(1.3792,1.1000) translate(0,-10)" stroke="#777777" stroke-width="1.95" fill="none" vector-effect="non-scaling-stroke"><path vector-effect="non-scaling-stroke" transform="translate(0.00,0)" d="M0.2,2.3 C0.6,0.8 1.6,0 2.9,0 C4.4,0 5.3,1 5.3,2.6 C5.3,4.4 3.9,5.4 0,10 L5.4,10"/><path vector-effect="non-scaling-stroke" transform="translate(7.60,0)" d="M0.6,8.8 L0.6,10.2"/><path vector-effect="non-scaling-stroke" transform="translate(11.00,0)" d="M2.7,4.8 C1.3,4.8 0.4,3.9 0.4,2.4 C0.4,1 1.3,0 2.7,0 C4.1,0 5,1 5,2.4 C5,3.9 4.1,4.8 2.7,4.8 C1.1,4.8 0,5.9 0,7.4 C0,9 1.1,10 2.7,10 C4.3,10 5.4,9 5.4,7.4 C5.4,5.9 4.3,4.8 2.7,4.8 Z"/><path vector-effect="non-scaling-stroke" transform="translate(18.60,0)" d="M2.7,0 C0.9,0 0,2 0,5 C0,8 0.9,10 2.7,10 C4.5,10 5.4,8 5.4,5 C5.4,2 4.5,0 2.7,0 Z"/></g>
<g transform="translate(843,292) rotate(-90) scale(1.2613,1.2600) translate(0,-10)" stroke="#777777" stroke-width="1.95" fill="none" vector-effect="non-scaling-stroke"><path vector-effect="non-scaling-stroke" transform="translate(0.00,0)" d="M0.4,2 L2.4,0 L2.4,10 M0.6,10 L4.2,10"/><path vector-effect="non-scaling-stroke" transform="translate(5.80,0)" d="M0.6,8.8 L0.6,10.2"/><path vector-effect="non-scaling-stroke" transform="translate(9.20,0)" d="M2.7,4.8 C1.3,4.8 0.4,3.9 0.4,2.4 C0.4,1 1.3,0 2.7,0 C4.1,0 5,1 5,2.4 C5,3.9 4.1,4.8 2.7,4.8 C1.1,4.8 0,5.9 0,7.4 C0,9 1.1,10 2.7,10 C4.3,10 5.4,9 5.4,7.4 C5.4,5.9 4.3,4.8 2.7,4.8 Z"/><path vector-effect="non-scaling-stroke" transform="translate(16.80,0)" d="M2.7,0 C0.9,0 0,2 0,5 C0,8 0.9,10 2.7,10 C4.5,10 5.4,8 5.4,5 C5.4,2 4.5,0 2.7,0 Z"/></g>
<line x1="646.6" y1="245.5" x2="687.6" y2="245.5"/>
<line x1="652" y1="245.7" x2="679" y2="245.7" stroke-width="3"/>
<rect x="677.5" y="241.7" width="9" height="8" rx="2.5" fill="#6a6a6a" stroke="none"/>
<path d="M687.6,245.5 L687.6,252.5 L693,252.5"/>
<path d="M527,253.1 L623.4,253.1 L623.4,258.4 L637.5,258.4 L637.5,251.4 L647.1,251.4 L647.1,245.5"/>
<line x1="636.9" y1="258" x2="636.9" y2="290" stroke-width="3"/>
<rect x="632.4" y="289.0" width="9" height="8" rx="2.5" fill="#6a6a6a" stroke="none"/>
<path d="M623.4,299.7 L638.3,299.7 L638.3,326.6 L646.6,326.6 L646.6,330.6 L690,330.6 L690,326.6 L700.7,326.6"/>
<line x1="651.5" y1="245.5" x2="651.5" y2="271.6"/>
<line x1="651.5" y1="306" x2="651.5" y2="326.6"/>
<line x1="638.3" y1="313" x2="648" y2="313"/>
<line x1="684" y1="313" x2="700.7" y2="313"/>
<line x1="646.0" y1="240.0" x2="657.0" y2="251.0"/>
<line x1="646.0" y1="321.1" x2="657.0" y2="332.1"/>
<line x1="632.8" y1="318.5" x2="643.8" y2="307.5"/>
<line x1="695.2" y1="318.5" x2="706.2" y2="307.5"/>
<g transform="translate(659.5,273.5) rotate(0) scale(1.3702,1.6100) translate(0,-10)" stroke="#7a7a7a" stroke-width="1.7" fill="none" vector-effect="non-scaling-stroke"><path vector-effect="non-scaling-stroke" transform="translate(0.00,0)" d="M0,10 L3,0 L6,10 M1.1,6.6 L4.9,6.6"/><path vector-effect="non-scaling-stroke" transform="translate(7.80,0)" d="M0.9,0.4 L0.9,8.6 C0.9,9.5 1.4,10 2.6,10 M0,3 L2.6,3"/><path vector-effect="non-scaling-stroke" transform="translate(12.20,0)" d="M0,3 L0,10 M0,5.6 C0.5,3.9 1.4,3 2.8,3"/><path vector-effect="non-scaling-stroke" transform="translate(16.80,0)" d="M0,3 L0,10 M0,0.2 L0,0.9"/><path vector-effect="non-scaling-stroke" transform="translate(18.60,0)" d="M2.45,3 C0.9,3 0,4.5 0,6.5 C0,8.5 0.9,10 2.45,10 C4,10 4.9,8.5 4.9,6.5 C4.9,4.5 4,3 2.45,3 Z"/></g>
<g transform="translate(664.3,285.6) rotate(0) scale(0.7455,0.9700) translate(0,-10)" stroke="#686868" stroke-width="1.7" fill="none" vector-effect="non-scaling-stroke"><path vector-effect="non-scaling-stroke" transform="translate(0.00,0)" d="M0,0 L0,10 M5.6,0 L5.6,10 M0,5 L5.6,5"/><path vector-effect="non-scaling-stroke" transform="translate(6.60,0)" d="M0.6,8.8 L0.6,10.2"/><path vector-effect="non-scaling-stroke" transform="translate(13.00,0)" d="M0.2,2.3 C0.6,0.8 1.6,0 2.9,0 C4.4,0 5.3,1 5.3,2.6 C5.3,4.4 3.9,5.4 0,10 L5.4,10"/><path vector-effect="non-scaling-stroke" transform="translate(19.40,0)" d="M0.6,8.8 L0.6,10.2"/><path vector-effect="non-scaling-stroke" transform="translate(21.60,0)" d="M5,0 L0.8,0 L0.4,4.6 C1,4 1.9,3.7 2.8,3.7 C4.4,3.7 5.4,4.9 5.4,6.8 C5.4,8.8 4.3,10 2.7,10 C1.5,10 0.6,9.5 0,8.5"/><path vector-effect="non-scaling-stroke" transform="translate(28.00,0)" d="M2.7,0 C0.9,0 0,2 0,5 C0,8 0.9,10 2.7,10 C4.5,10 5.4,8 5.4,5 C5.4,2 4.5,0 2.7,0 Z"/></g>
<g transform="translate(663.5,299.2) rotate(0) scale(0.6036,0.9600) translate(0,-10)" stroke="#686868" stroke-width="1.7" fill="none" vector-effect="non-scaling-stroke"><path vector-effect="non-scaling-stroke" transform="translate(0.00,0)" d="M0,10 L0,0 L3.3,7 L6.6,0 L6.6,10"/><path vector-effect="non-scaling-stroke" transform="translate(7.60,0)" d="M4.8,3 L4.8,13.5 M4.8,5 C4.4,3.7 3.5,3 2.4,3 C0.9,3 0,4.5 0,6.5 C0,8.5 0.9,10 2.4,10 C3.5,10 4.4,9.3 4.8,8"/><path vector-effect="non-scaling-stroke" transform="translate(13.40,0)" d="M0.6,8.8 L0.6,10.2"/><path vector-effect="non-scaling-stroke" transform="translate(19.80,0)" d="M0.4,2 L2.4,0 L2.4,10 M0.6,10 L4.2,10"/><path vector-effect="non-scaling-stroke" transform="translate(24.40,0)" d="M0.6,8.8 L0.6,10.2"/><path vector-effect="non-scaling-stroke" transform="translate(26.60,0)" d="M4.2,10 L4.2,0 L0,7.2 L5.6,7.2"/><path vector-effect="non-scaling-stroke" transform="translate(33.20,0)" d="M0,0 L5.4,0 L1.9,10"/></g>
<line x1="661" y1="300.5" x2="696.5" y2="300.5"/>
<g transform="translate(657.7,303.2) rotate(-90) scale(1.2946,1.1500) translate(0,-10)" stroke="#777777" stroke-width="1.95" fill="none" vector-effect="non-scaling-stroke"><path vector-effect="non-scaling-stroke" transform="translate(0.00,0)" d="M0.4,2 L2.4,0 L2.4,10 M0.6,10 L4.2,10"/><path vector-effect="non-scaling-stroke" transform="translate(5.80,0)" d="M0.6,8.8 L0.6,10.2"/><path vector-effect="non-scaling-stroke" transform="translate(9.20,0)" d="M4.2,10 L4.2,0 L0,7.2 L5.6,7.2"/><path vector-effect="non-scaling-stroke" transform="translate(17.00,0)" d="M2.7,0 C0.9,0 0,2 0,5 C0,8 0.9,10 2.7,10 C4.5,10 5.4,8 5.4,5 C5.4,2 4.5,0 2.7,0 Z"/></g>
<g transform="translate(651.4,318.6) rotate(0) scale(1.3423,1.0600) translate(0,-10)" stroke="#777777" stroke-width="1.95" fill="none" vector-effect="non-scaling-stroke"><path vector-effect="non-scaling-stroke" transform="translate(0.00,0)" d="M0.4,2 L2.4,0 L2.4,10 M0.6,10 L4.2,10"/><path vector-effect="non-scaling-stroke" transform="translate(5.80,0)" d="M0.6,8.8 L0.6,10.2"/><path vector-effect="non-scaling-stroke" transform="translate(9.20,0)" d="M2.7,0 C0.9,0 0,2 0,5 C0,8 0.9,10 2.7,10 C4.5,10 5.4,8 5.4,5 C5.4,2 4.5,0 2.7,0 Z"/><path vector-effect="non-scaling-stroke" transform="translate(16.80,0)" d="M5,0 L0.8,0 L0.4,4.6 C1,4 1.9,3.7 2.8,3.7 C4.4,3.7 5.4,4.9 5.4,6.8 C5.4,8.8 4.3,10 2.7,10 C1.5,10 0.6,9.5 0,8.5"/></g>
<line x1="638.3" y1="335" x2="849.2" y2="335"/>
<line x1="638.3" y1="335" x2="638.3" y2="625.3"/>
<line x1="849.2" y1="335" x2="849.2" y2="625.3"/>
<line x1="638.3" y1="625.3" x2="849.2" y2="625.3"/>
<line x1="651.5" y1="335" x2="651.5" y2="460"/>
<line x1="651.5" y1="500" x2="651.5" y2="625.3"/>
<line x1="836" y1="335" x2="836" y2="460"/>
<line x1="836" y1="500" x2="836" y2="625.3"/>
<line x1="638.3" y1="612.7" x2="725" y2="612.7"/>
<line x1="764" y1="612.7" x2="849.2" y2="612.7"/>
<line x1="646.0" y1="329.5" x2="657.0" y2="340.5"/>
<line x1="830.5" y1="329.5" x2="841.5" y2="340.5"/>
<line x1="646.0" y1="619.8" x2="657.0" y2="630.8"/>
<line x1="830.5" y1="619.8" x2="841.5" y2="630.8"/>
<line x1="632.8" y1="618.2" x2="643.8" y2="607.2"/>
<line x1="843.7" y1="618.2" x2="854.7" y2="607.2"/>
<g transform="translate(685.6,449.7) rotate(0) scale(2.7089,3.2300) translate(0,-10)" stroke="#7a7a7a" stroke-width="1.7" fill="none" vector-effect="non-scaling-stroke"><path vector-effect="non-scaling-stroke" transform="translate(0.00,0)" d="M0,10 L0,0 L3.3,0 C4.8,0 5.6,1 5.6,2.6 C5.6,4.2 4.8,5.2 3.3,5.2 L0,5.2 M3,5.2 L5.6,10"/><path vector-effect="non-scaling-stroke" transform="translate(7.40,0)" d="M0,3 L0,10 M0,0.2 L0,0.9"/><path vector-effect="non-scaling-stroke" transform="translate(9.20,0)" d="M0,3 L0,10 M0,5 C0.4,3.7 1.2,3 2.1,3 C3.1,3 3.7,3.8 3.7,5.2 L3.7,10 M3.7,5 C4.1,3.7 4.9,3 5.8,3 C6.8,3 7.4,3.8 7.4,5.2 L7.4,10"/><path vector-effect="non-scaling-stroke" transform="translate(18.40,0)" d="M0,6.4 L4.8,6.4 C4.8,4.4 3.8,3 2.4,3 C0.9,3 0,4.5 0,6.5 C0,8.5 0.9,10 2.4,10 C3.5,10 4.3,9.4 4.8,8.4"/><path vector-effect="non-scaling-stroke" transform="translate(25.00,0)" d="M4.3,4 C3.9,3.3 3.2,3 2.3,3 C1.1,3 0.3,3.6 0.3,4.6 C0.3,6.8 4.6,5.8 4.6,8.2 C4.6,9.3 3.7,10 2.4,10 C1.3,10 0.5,9.6 0,8.8"/><path vector-effect="non-scaling-stroke" transform="translate(31.40,0)" d="M4.3,4 C3.9,3.3 3.2,3 2.3,3 C1.1,3 0.3,3.6 0.3,4.6 C0.3,6.8 4.6,5.8 4.6,8.2 C4.6,9.3 3.7,10 2.4,10 C1.3,10 0.5,9.6 0,8.8"/><path vector-effect="non-scaling-stroke" transform="translate(37.80,0)" d="M4.8,3 L4.8,10 M4.8,5 C4.4,3.7 3.5,3 2.4,3 C0.9,3 0,4.5 0,6.5 C0,8.5 0.9,10 2.4,10 C3.5,10 4.4,9.3 4.8,8"/></g>
<g transform="translate(723.9,482.2) rotate(0) scale(0.9880,1.5800) translate(0,-10)" stroke="#686868" stroke-width="1.7" fill="none" vector-effect="non-scaling-stroke"><path vector-effect="non-scaling-stroke" transform="translate(0.00,0)" d="M0,0 L0,10 M5.6,0 L5.6,10 M0,5 L5.6,5"/><path vector-effect="non-scaling-stroke" transform="translate(6.60,0)" d="M0.6,8.8 L0.6,10.2"/><path vector-effect="non-scaling-stroke" transform="translate(13.00,0)" d="M0.2,2.3 C0.6,0.8 1.6,0 2.9,0 C4.4,0 5.3,1 5.3,2.6 C5.3,4.4 3.9,5.4 0,10 L5.4,10"/><path vector-effect="non-scaling-stroke" transform="translate(19.40,0)" d="M0.6,8.8 L0.6,10.2"/><path vector-effect="non-scaling-stroke" transform="translate(21.60,0)" d="M5,0 L0.8,0 L0.4,4.6 C1,4 1.9,3.7 2.8,3.7 C4.4,3.7 5.4,4.9 5.4,6.8 C5.4,8.8 4.3,10 2.7,10 C1.5,10 0.6,9.5 0,8.5"/><path vector-effect="non-scaling-stroke" transform="translate(28.00,0)" d="M2.7,0 C0.9,0 0,2 0,5 C0,8 0.9,10 2.7,10 C4.5,10 5.4,8 5.4,5 C5.4,2 4.5,0 2.7,0 Z"/></g>
<g transform="translate(725.2,509.9) rotate(0) scale(0.7768,1.1900) translate(0,-10)" stroke="#686868" stroke-width="1.7" fill="none" vector-effect="non-scaling-stroke"><path vector-effect="non-scaling-stroke" transform="translate(0.00,0)" d="M0,10 L0,0 L3.3,7 L6.6,0 L6.6,10"/><path vector-effect="non-scaling-stroke" transform="translate(7.60,0)" d="M4.8,3 L4.8,13.5 M4.8,5 C4.4,3.7 3.5,3 2.4,3 C0.9,3 0,4.5 0,6.5 C0,8.5 0.9,10 2.4,10 C3.5,10 4.4,9.3 4.8,8"/><path vector-effect="non-scaling-stroke" transform="translate(13.40,0)" d="M0.6,8.8 L0.6,10.2"/><path vector-effect="non-scaling-stroke" transform="translate(19.80,0)" d="M0.2,2.3 C0.6,0.8 1.6,0 2.9,0 C4.4,0 5.3,1 5.3,2.6 C5.3,4.4 3.9,5.4 0,10 L5.4,10"/><path vector-effect="non-scaling-stroke" transform="translate(26.20,0)" d="M0.2,2.3 C0.6,0.8 1.6,0 2.9,0 C4.4,0 5.3,1 5.3,2.6 C5.3,4.4 3.9,5.4 0,10 L5.4,10"/><path vector-effect="non-scaling-stroke" transform="translate(32.60,0)" d="M0.6,8.8 L0.6,10.2"/><path vector-effect="non-scaling-stroke" transform="translate(34.80,0)" d="M2.7,0 C0.9,0 0,2 0,5 C0,8 0.9,10 2.7,10 C4.5,10 5.4,8 5.4,5 C5.4,2 4.5,0 2.7,0 Z"/><path vector-effect="non-scaling-stroke" transform="translate(41.20,0)" d="M2.7,0 C0.9,0 0,2 0,5 C0,8 0.9,10 2.7,10 C4.5,10 5.4,8 5.4,5 C5.4,2 4.5,0 2.7,0 Z"/></g>
<line x1="722.6" y1="511.2" x2="768.2" y2="511.2"/>
<g transform="translate(658,496.7) rotate(-90) scale(1.3750,1.2000) translate(0,-10)" stroke="#777777" stroke-width="1.95" fill="none" vector-effect="non-scaling-stroke"><path vector-effect="non-scaling-stroke" transform="translate(0.00,0)" d="M5,0 L0.8,0 L0.4,4.6 C1,4 1.9,3.7 2.8,3.7 C4.4,3.7 5.4,4.9 5.4,6.8 C5.4,8.8 4.3,10 2.7,10 C1.5,10 0.6,9.5 0,8.5"/><path vector-effect="non-scaling-stroke" transform="translate(7.60,0)" d="M0.6,8.8 L0.6,10.2"/><path vector-effect="non-scaling-stroke" transform="translate(11.00,0)" d="M5,0 L0.8,0 L0.4,4.6 C1,4 1.9,3.7 2.8,3.7 C4.4,3.7 5.4,4.9 5.4,6.8 C5.4,8.8 4.3,10 2.7,10 C1.5,10 0.6,9.5 0,8.5"/><path vector-effect="non-scaling-stroke" transform="translate(18.60,0)" d="M2.7,0 C0.9,0 0,2 0,5 C0,8 0.9,10 2.7,10 C4.5,10 5.4,8 5.4,5 C5.4,2 4.5,0 2.7,0 Z"/></g>
<g transform="translate(842.6,496.7) rotate(-90) scale(1.3750,1.2000) translate(0,-10)" stroke="#777777" stroke-width="1.95" fill="none" vector-effect="non-scaling-stroke"><path vector-effect="non-scaling-stroke" transform="translate(0.00,0)" d="M5,0 L0.8,0 L0.4,4.6 C1,4 1.9,3.7 2.8,3.7 C4.4,3.7 5.4,4.9 5.4,6.8 C5.4,8.8 4.3,10 2.7,10 C1.5,10 0.6,9.5 0,8.5"/><path vector-effect="non-scaling-stroke" transform="translate(7.60,0)" d="M0.6,8.8 L0.6,10.2"/><path vector-effect="non-scaling-stroke" transform="translate(11.00,0)" d="M5,0 L0.8,0 L0.4,4.6 C1,4 1.9,3.7 2.8,3.7 C4.4,3.7 5.4,4.9 5.4,6.8 C5.4,8.8 4.3,10 2.7,10 C1.5,10 0.6,9.5 0,8.5"/><path vector-effect="non-scaling-stroke" transform="translate(18.60,0)" d="M2.7,0 C0.9,0 0,2 0,5 C0,8 0.9,10 2.7,10 C4.5,10 5.4,8 5.4,5 C5.4,2 4.5,0 2.7,0 Z"/></g>
<g transform="translate(729.2,618) rotate(0) scale(1.2521,1.1000) translate(0,-10)" stroke="#777777" stroke-width="1.95" fill="none" vector-effect="non-scaling-stroke"><path vector-effect="non-scaling-stroke" transform="translate(0.00,0)" d="M4.2,10 L4.2,0 L0,7.2 L5.6,7.2"/><path vector-effect="non-scaling-stroke" transform="translate(7.80,0)" d="M0.6,8.8 L0.6,10.2"/><path vector-effect="non-scaling-stroke" transform="translate(11.20,0)" d="M2.7,0 C0.9,0 0,2 0,5 C0,8 0.9,10 2.7,10 C4.5,10 5.4,8 5.4,5 C5.4,2 4.5,0 2.7,0 Z"/><path vector-effect="non-scaling-stroke" transform="translate(18.80,0)" d="M2.7,0 C0.9,0 0,2 0,5 C0,8 0.9,10 2.7,10 C4.5,10 5.4,8 5.4,5 C5.4,2 4.5,0 2.7,0 Z"/></g>
<path d="M674.6,625.3 L674.6,630.7 L814.9,630.7 L814.9,625.3"/>
<path d="M791,625 Q795,619 799,625 Z" fill="#707070" stroke="none"/>
<line x1="678.6" y1="630.7" x2="678.6" y2="649.1"/>
<line x1="809.6" y1="630.7" x2="809.6" y2="649.1"/>
<path d="M672.5,649.1 L672.5,653.6 L816.7,653.6 L816.7,649.1"/>
<path d="M567.3,572.2 L614.9,572.2 L614.9,649.1 L672.5,649.1"/>
<line x1="816.7" y1="649.1" x2="857" y2="649.1"/>
<line x1="744.5" y1="612" x2="744.5" y2="655"/>
<line x1="437.2" y1="222.4" x2="437.2" y2="240.1"/>
<line x1="422.4" y1="240.1" x2="437.2" y2="240.1"/>
<line x1="437.2" y1="281.1" x2="437.2" y2="492.5"/>
<line x1="437.2" y1="539.4" x2="437.2" y2="549"/>
<line x1="623.4" y1="299.7" x2="623.4" y2="549"/>
<line x1="437.2" y1="549" x2="623.4" y2="549"/>
<line x1="437.2" y1="535.7" x2="510" y2="535.7"/>
<line x1="550" y1="535.7" x2="623" y2="535.7"/>
<line x1="431.7" y1="541.2" x2="442.7" y2="530.2"/>
<line x1="617.5" y1="541.2" x2="628.5" y2="530.2"/>
<line x1="444.9" y1="543.5" x2="455.9" y2="554.5"/>
<line x1="602.9" y1="543.5" x2="613.9" y2="554.5"/>
<g transform="translate(462.4,362.4) rotate(0) scale(2.6397,3.3000) translate(0,-10)" stroke="#7a7a7a" stroke-width="1.7" fill="none" vector-effect="non-scaling-stroke"><path vector-effect="non-scaling-stroke" transform="translate(0.00,0)" d="M5.3,1.6 C4.8,0.5 3.9,0 2.8,0 C1.3,0 0.3,0.9 0.3,2.4 C0.3,5.6 5.6,4.3 5.6,7.5 C5.6,9.1 4.5,10 2.9,10 C1.6,10 0.6,9.4 0,8.3"/><path vector-effect="non-scaling-stroke" transform="translate(7.40,0)" d="M2.45,3 C0.9,3 0,4.5 0,6.5 C0,8.5 0.9,10 2.45,10 C4,10 4.9,8.5 4.9,6.5 C4.9,4.5 4,3 2.45,3 Z"/><path vector-effect="non-scaling-stroke" transform="translate(14.10,0)" d="M4.8,3 L4.8,11 C4.8,12.4 3.9,13.1 2.6,13.1 C1.6,13.1 0.8,12.7 0.3,11.9 M4.8,5 C4.4,3.7 3.5,3 2.4,3 C0.9,3 0,4.5 0,6.5 C0,8.5 0.9,10 2.4,10 C3.5,10 4.4,9.3 4.8,8"/><path vector-effect="non-scaling-stroke" transform="translate(20.70,0)" d="M4.8,3 L4.8,11 C4.8,12.4 3.9,13.1 2.6,13.1 C1.6,13.1 0.8,12.7 0.3,11.9 M4.8,5 C4.4,3.7 3.5,3 2.4,3 C0.9,3 0,4.5 0,6.5 C0,8.5 0.9,10 2.4,10 C3.5,10 4.4,9.3 4.8,8"/><path vector-effect="non-scaling-stroke" transform="translate(27.30,0)" d="M0,3 L0,10 M0,0.2 L0,0.9"/><path vector-effect="non-scaling-stroke" transform="translate(29.10,0)" d="M2.45,3 C0.9,3 0,4.5 0,6.5 C0,8.5 0.9,10 2.45,10 C4,10 4.9,8.5 4.9,6.5 C4.9,4.5 4,3 2.45,3 Z"/><path vector-effect="non-scaling-stroke" transform="translate(35.80,0)" d="M0,3 L0,10 M0,5.6 C0.5,3.9 1.4,3 2.8,3"/><path vector-effect="non-scaling-stroke" transform="translate(40.40,0)" d="M0,3 L0,10 M0,5 C0.5,3.7 1.5,3 2.6,3 C4,3 4.8,3.8 4.8,5.4 L4.8,10"/><path vector-effect="non-scaling-stroke" transform="translate(47.00,0)" d="M2.45,3 C0.9,3 0,4.5 0,6.5 C0,8.5 0.9,10 2.45,10 C4,10 4.9,8.5 4.9,6.5 C4.9,4.5 4,3 2.45,3 Z"/></g>
<g transform="translate(517.4,400.3) rotate(0) scale(0.9521,1.3500) translate(0,-10)" stroke="#686868" stroke-width="1.7" fill="none" vector-effect="non-scaling-stroke"><path vector-effect="non-scaling-stroke" transform="translate(0.00,0)" d="M0,0 L0,10 M5.6,0 L5.6,10 M0,5 L5.6,5"/><path vector-effect="non-scaling-stroke" transform="translate(6.60,0)" d="M0.6,8.8 L0.6,10.2"/><path vector-effect="non-scaling-stroke" transform="translate(13.00,0)" d="M0.2,2.3 C0.6,0.8 1.6,0 2.9,0 C4.4,0 5.3,1 5.3,2.6 C5.3,4.4 3.9,5.4 0,10 L5.4,10"/><path vector-effect="non-scaling-stroke" transform="translate(19.40,0)" d="M0.6,8.8 L0.6,10.2"/><path vector-effect="non-scaling-stroke" transform="translate(21.60,0)" d="M0,0 L5.4,0 L1.9,10"/><path vector-effect="non-scaling-stroke" transform="translate(28.00,0)" d="M2.7,0 C0.9,0 0,2 0,5 C0,8 0.9,10 2.7,10 C4.5,10 5.4,8 5.4,5 C5.4,2 4.5,0 2.7,0 Z"/></g>
<g transform="translate(457.5,400.3) rotate(-90) scale(1.2750,1.3000) translate(0,-10)" stroke="#777777" stroke-width="1.95" fill="none" vector-effect="non-scaling-stroke"><path vector-effect="non-scaling-stroke" transform="translate(0.00,0)" d="M4.9,1.2 C4.4,0.4 3.6,0 2.8,0 C1,0 0,2 0,5.5 C0,8.5 1,10 2.8,10 C4.4,10 5.4,8.7 5.4,6.8 C5.4,5 4.4,3.7 2.8,3.7 C1.5,3.7 0.5,4.5 0,5.8"/><path vector-effect="non-scaling-stroke" transform="translate(7.60,0)" d="M0.6,8.8 L0.6,10.2"/><path vector-effect="non-scaling-stroke" transform="translate(11.00,0)" d="M0.2,2.3 C0.6,0.8 1.6,0 2.9,0 C4.4,0 5.3,1 5.3,2.6 C5.3,4.4 3.9,5.4 0,10 L5.4,10"/><path vector-effect="non-scaling-stroke" transform="translate(18.60,0)" d="M2.7,0 C0.9,0 0,2 0,5 C0,8 0.9,10 2.7,10 C4.5,10 5.4,8 5.4,5 C5.4,2 4.5,0 2.7,0 Z"/></g>
<g transform="translate(616.5,417) rotate(-90) scale(1.3583,1.3500) translate(0,-10)" stroke="#777777" stroke-width="1.95" fill="none" vector-effect="non-scaling-stroke"><path vector-effect="non-scaling-stroke" transform="translate(0.00,0)" d="M5,0 L0.8,0 L0.4,4.6 C1,4 1.9,3.7 2.8,3.7 C4.4,3.7 5.4,4.9 5.4,6.8 C5.4,8.8 4.3,10 2.7,10 C1.5,10 0.6,9.5 0,8.5"/><path vector-effect="non-scaling-stroke" transform="translate(7.60,0)" d="M0.6,8.8 L0.6,10.2"/><path vector-effect="non-scaling-stroke" transform="translate(11.00,0)" d="M4.9,1.2 C4.4,0.4 3.6,0 2.8,0 C1,0 0,2 0,5.5 C0,8.5 1,10 2.8,10 C4.4,10 5.4,8.7 5.4,6.8 C5.4,5 4.4,3.7 2.8,3.7 C1.5,3.7 0.5,4.5 0,5.8"/><path vector-effect="non-scaling-stroke" transform="translate(18.60,0)" d="M2.7,0 C0.9,0 0,2 0,5 C0,8 0.9,10 2.7,10 C4.5,10 5.4,8 5.4,5 C5.4,2 4.5,0 2.7,0 Z"/></g>
<g transform="translate(554.8,478.2) rotate(0) scale(0.9378,1.4700) translate(0,-10)" stroke="#686868" stroke-width="1.7" fill="none" vector-effect="non-scaling-stroke"><path vector-effect="non-scaling-stroke" transform="translate(0.00,0)" d="M0,10 L0,0 L3.3,7 L6.6,0 L6.6,10"/><path vector-effect="non-scaling-stroke" transform="translate(7.60,0)" d="M4.8,3 L4.8,13.5 M4.8,5 C4.4,3.7 3.5,3 2.4,3 C0.9,3 0,4.5 0,6.5 C0,8.5 0.9,10 2.4,10 C3.5,10 4.4,9.3 4.8,8"/><path vector-effect="non-scaling-stroke" transform="translate(13.40,0)" d="M0.6,8.8 L0.6,10.2"/><path vector-effect="non-scaling-stroke" transform="translate(19.80,0)" d="M0.2,2.3 C0.6,0.8 1.6,0 2.9,0 C4.4,0 5.3,1 5.3,2.6 C5.3,4.4 3.9,5.4 0,10 L5.4,10"/><path vector-effect="non-scaling-stroke" transform="translate(26.20,0)" d="M2.7,0 C0.9,0 0,2 0,5 C0,8 0.9,10 2.7,10 C4.5,10 5.4,8 5.4,5 C5.4,2 4.5,0 2.7,0 Z"/><path vector-effect="non-scaling-stroke" transform="translate(32.60,0)" d="M0.6,8.8 L0.6,10.2"/><path vector-effect="non-scaling-stroke" transform="translate(34.80,0)" d="M5,0 L0.8,0 L0.4,4.6 C1,4 1.9,3.7 2.8,3.7 C4.4,3.7 5.4,4.9 5.4,6.8 C5.4,8.8 4.3,10 2.7,10 C1.5,10 0.6,9.5 0,8.5"/><path vector-effect="non-scaling-stroke" transform="translate(41.20,0)" d="M0.3,1.8 C0.8,0.6 1.7,0 2.9,0 C4.3,0 5.1,1 5.1,2.4 C5.1,3.9 4.1,4.8 2.5,4.8 M2.5,4.8 C4.4,4.8 5.4,5.9 5.4,7.4 C5.4,9.1 4.3,10 2.8,10 C1.5,10 0.5,9.4 0,8.3"/></g>
<line x1="551.2" y1="481.1" x2="605.8" y2="481.1"/>
<g transform="translate(554.8,500.9) rotate(0) scale(0.9663,1.4900) translate(0,-10)" stroke="#686868" stroke-width="1.7" fill="none" vector-effect="non-scaling-stroke"><path vector-effect="non-scaling-stroke" transform="translate(0.00,0)" d="M5.3,1.6 C4.8,0.5 3.9,0 2.8,0 C1.3,0 0.3,0.9 0.3,2.4 C0.3,5.6 5.6,4.3 5.6,7.5 C5.6,9.1 4.5,10 2.9,10 C1.6,10 0.6,9.4 0,8.3"/><path vector-effect="non-scaling-stroke" transform="translate(6.60,0)" d="M0.6,8.8 L0.6,10.2"/><path vector-effect="non-scaling-stroke" transform="translate(8.80,0)" d="M5,0 L0,0 L0,10 M0,5 L4.2,5"/><path vector-effect="non-scaling-stroke" transform="translate(14.80,0)" d="M0.6,8.8 L0.6,10.2"/><path vector-effect="non-scaling-stroke" transform="translate(21.20,0)" d="M0.3,1.8 C0.8,0.6 1.7,0 2.9,0 C4.3,0 5.1,1 5.1,2.4 C5.1,3.9 4.1,4.8 2.5,4.8 M2.5,4.8 C4.4,4.8 5.4,5.9 5.4,7.4 C5.4,9.1 4.3,10 2.8,10 C1.5,10 0.5,9.4 0,8.3"/><path vector-effect="non-scaling-stroke" transform="translate(27.60,0)" d="M0.6,8.8 L0.6,10.2"/><path vector-effect="non-scaling-stroke" transform="translate(29.80,0)" d="M4.9,1.2 C4.4,0.4 3.6,0 2.8,0 C1,0 0,2 0,5.5 C0,8.5 1,10 2.8,10 C4.4,10 5.4,8.7 5.4,6.8 C5.4,5 4.4,3.7 2.8,3.7 C1.5,3.7 0.5,4.5 0,5.8"/><path vector-effect="non-scaling-stroke" transform="translate(36.20,0)" d="M2.7,4.8 C1.3,4.8 0.4,3.9 0.4,2.4 C0.4,1 1.3,0 2.7,0 C4.1,0 5,1 5,2.4 C5,3.9 4.1,4.8 2.7,4.8 C1.1,4.8 0,5.9 0,7.4 C0,9 1.1,10 2.7,10 C4.3,10 5.4,9 5.4,7.4 C5.4,5.9 4.3,4.8 2.7,4.8 Z"/></g>
<line x1="551.2" y1="502.3" x2="605.8" y2="502.3"/>
<g transform="translate(554.8,521.6) rotate(0) scale(1.0316,1.5600) translate(0,-10)" stroke="#686868" stroke-width="1.7" fill="none" vector-effect="non-scaling-stroke"><path vector-effect="non-scaling-stroke" transform="translate(0.00,0)" d="M0,10 L0,0 L3.3,0 C4.8,0 5.6,1 5.6,2.6 C5.6,4.2 4.8,5.2 3.3,5.2 L0,5.2 M3,5.2 L5.6,10"/><path vector-effect="non-scaling-stroke" transform="translate(6.60,0)" d="M0.6,8.8 L0.6,10.2"/><path vector-effect="non-scaling-stroke" transform="translate(8.80,0)" d="M0,0 L0,10"/><path vector-effect="non-scaling-stroke" transform="translate(9.80,0)" d="M0.6,8.8 L0.6,10.2"/><path vector-effect="non-scaling-stroke" transform="translate(16.20,0)" d="M2.7,0 C0.9,0 0,2 0,5 C0,8 0.9,10 2.7,10 C4.5,10 5.4,8 5.4,5 C5.4,2 4.5,0 2.7,0 Z"/><path vector-effect="non-scaling-stroke" transform="translate(22.60,0)" d="M0.6,8.8 L0.6,10.2"/><path vector-effect="non-scaling-stroke" transform="translate(24.80,0)" d="M0.4,2 L2.4,0 L2.4,10 M0.6,10 L4.2,10"/><path vector-effect="non-scaling-stroke" transform="translate(29.40,0)" d="M0,0 L5.4,0 L1.9,10"/><path vector-effect="non-scaling-stroke" transform="translate(35.80,0)" d="M0.5,8.8 C1,9.6 1.8,10 2.6,10 C4.4,10 5.4,8 5.4,4.5 C5.4,1.5 4.4,0 2.6,0 C1,0 0,1.3 0,3.2 C0,5 1,6.3 2.6,6.3 C3.9,6.3 4.9,5.5 5.4,4.2"/></g>
<line x1="552.6" y1="524.1" x2="604.1" y2="524.1"/>
<g transform="translate(514.3,541.4) rotate(0) scale(1.3375,1.1400) translate(0,-10)" stroke="#777777" stroke-width="1.95" fill="none" vector-effect="non-scaling-stroke"><path vector-effect="non-scaling-stroke" transform="translate(0.00,0)" d="M0.3,1.8 C0.8,0.6 1.7,0 2.9,0 C4.3,0 5.1,1 5.1,2.4 C5.1,3.9 4.1,4.8 2.5,4.8 M2.5,4.8 C4.4,4.8 5.4,5.9 5.4,7.4 C5.4,9.1 4.3,10 2.8,10 C1.5,10 0.5,9.4 0,8.3"/><path vector-effect="non-scaling-stroke" transform="translate(7.60,0)" d="M0.6,8.8 L0.6,10.2"/><path vector-effect="non-scaling-stroke" transform="translate(11.00,0)" d="M5,0 L0.8,0 L0.4,4.6 C1,4 1.9,3.7 2.8,3.7 C4.4,3.7 5.4,4.9 5.4,6.8 C5.4,8.8 4.3,10 2.7,10 C1.5,10 0.6,9.5 0,8.5"/><path vector-effect="non-scaling-stroke" transform="translate(18.60,0)" d="M2.7,0 C0.9,0 0,2 0,5 C0,8 0.9,10 2.7,10 C4.5,10 5.4,8 5.4,5 C5.4,2 4.5,0 2.7,0 Z"/></g>
<path d="M478.2,549.1 L478.2,554.3 L570.2,554.3 L570.2,549.1"/>
<line x1="482.1" y1="549.1" x2="482.1" y2="572.2"/>
<line x1="567.3" y1="549.1" x2="567.3" y2="572.2"/>
<line x1="518.7" y1="549.1" x2="518.7" y2="554.3"/>
<path d="M476.4,572.2 L476.4,577.7 L572,577.7 L572,572.2"/>
<line x1="524.9" y1="533.5" x2="524.9" y2="613.3"/>
<g transform="translate(522.8,608) rotate(-90) skewX(-15) scale(1.4138,1.2900) translate(0,-10)" stroke="#707070" stroke-width="2.1" fill="none" vector-effect="non-scaling-stroke"><path vector-effect="non-scaling-stroke" transform="translate(0.00,0)" d="M0.4,2 L2.4,0 L2.4,10 M0.6,10 L4.2,10"/><path vector-effect="non-scaling-stroke" transform="translate(5.10,0)" d="M4.9,1.2 C4.4,0.4 3.6,0 2.8,0 C1,0 0,2 0,5.5 C0,8.5 1,10 2.8,10 C4.4,10 5.4,8.7 5.4,6.8 C5.4,5 4.4,3.7 2.8,3.7 C1.5,3.7 0.5,4.5 0,5.8"/><path vector-effect="non-scaling-stroke" transform="translate(12.00,0)" d="M2.7,0 C0.9,0 0,2 0,5 C0,8 0.9,10 2.7,10 C4.5,10 5.4,8 5.4,5 C5.4,2 4.5,0 2.7,0 Z"/></g>
<g transform="translate(540.3,609.8) rotate(-90) skewX(-15) scale(1.4062,1.3500) translate(0,-10)" stroke="#707070" stroke-width="2.1" fill="none" vector-effect="non-scaling-stroke"><path vector-effect="non-scaling-stroke" transform="translate(0.00,0)" d="M0.2,2.3 C0.6,0.8 1.6,0 2.9,0 C4.4,0 5.3,1 5.3,2.6 C5.3,4.4 3.9,5.4 0,10 L5.4,10"/><path vector-effect="non-scaling-stroke" transform="translate(6.90,0)" d="M0.3,1.8 C0.8,0.6 1.7,0 2.9,0 C4.3,0 5.1,1 5.1,2.4 C5.1,3.9 4.1,4.8 2.5,4.8 M2.5,4.8 C4.4,4.8 5.4,5.9 5.4,7.4 C5.4,9.1 4.3,10 2.8,10 C1.5,10 0.5,9.4 0,8.3"/><path vector-effect="non-scaling-stroke" transform="translate(13.80,0)" d="M2.7,0 C0.9,0 0,2 0,5 C0,8 0.9,10 2.7,10 C4.5,10 5.4,8 5.4,5 C5.4,2 4.5,0 2.7,0 Z"/></g>
<line x1="173.3" y1="298.2" x2="422.4" y2="298.2"/>
<line x1="173.3" y1="455.6" x2="422.5" y2="455.6"/>
<line x1="173.3" y1="298.4" x2="173.3" y2="455.6"/>
<line x1="422.4" y1="289.9" x2="422.4" y2="455.6"/>
<line x1="186.9" y1="298.4" x2="186.9" y2="358"/>
<line x1="186.9" y1="395" x2="186.9" y2="455.6"/>
<line x1="409.2" y1="298.4" x2="409.2" y2="358"/>
<line x1="409.2" y1="395" x2="409.2" y2="455.6"/>
<line x1="173.3" y1="442.9" x2="277.5" y2="442.9"/>
<line x1="317.2" y1="442.9" x2="422.5" y2="442.9"/>
<line x1="181.4" y1="292.9" x2="192.4" y2="303.9"/>
<line x1="403.7" y1="292.9" x2="414.7" y2="303.9"/>
<line x1="181.4" y1="450.1" x2="192.4" y2="461.1"/>
<line x1="403.7" y1="450.1" x2="414.7" y2="461.1"/>
<line x1="167.8" y1="448.4" x2="178.8" y2="437.4"/>
<line x1="417.0" y1="448.4" x2="428.0" y2="437.4"/>
<g transform="translate(260.5,365) rotate(0) scale(2.6964,3.4000) translate(0,-10)" stroke="#7a7a7a" stroke-width="1.7" fill="none" vector-effect="non-scaling-stroke"><path vector-effect="non-scaling-stroke" transform="translate(0.00,0)" d="M5.6,1.8 C5,0.6 4.1,0 2.9,0 C1.1,0 0,2 0,5 C0,8 1.1,10 2.9,10 C4.1,10 5,9.4 5.6,8.2"/><path vector-effect="non-scaling-stroke" transform="translate(7.40,0)" d="M4.8,3 L4.8,10 M4.8,5 C4.4,3.7 3.5,3 2.4,3 C0.9,3 0,4.5 0,6.5 C0,8.5 0.9,10 2.4,10 C3.5,10 4.4,9.3 4.8,8"/><path vector-effect="non-scaling-stroke" transform="translate(14.00,0)" d="M0,3 L0,10 M0,5 C0.4,3.7 1.2,3 2.1,3 C3.1,3 3.7,3.8 3.7,5.2 L3.7,10 M3.7,5 C4.1,3.7 4.9,3 5.8,3 C6.8,3 7.4,3.8 7.4,5.2 L7.4,10"/><path vector-effect="non-scaling-stroke" transform="translate(23.20,0)" d="M0,6.4 L4.8,6.4 C4.8,4.4 3.8,3 2.4,3 C0.9,3 0,4.5 0,6.5 C0,8.5 0.9,10 2.4,10 C3.5,10 4.3,9.4 4.8,8.4"/><path vector-effect="non-scaling-stroke" transform="translate(29.80,0)" d="M0,3 L0,10 M0,5.6 C0.5,3.9 1.4,3 2.8,3"/><path vector-effect="non-scaling-stroke" transform="translate(34.40,0)" d="M4.8,3 L4.8,10 M4.8,5 C4.4,3.7 3.5,3 2.4,3 C0.9,3 0,4.5 0,6.5 C0,8.5 0.9,10 2.4,10 C3.5,10 4.4,9.3 4.8,8"/></g>
<g transform="translate(298.8,395.5) rotate(0) scale(0.9731,1.5000) translate(0,-10)" stroke="#686868" stroke-width="1.7" fill="none" vector-effect="non-scaling-stroke"><path vector-effect="non-scaling-stroke" transform="translate(0.00,0)" d="M0,0 L0,10 M5.6,0 L5.6,10 M0,5 L5.6,5"/><path vector-effect="non-scaling-stroke" transform="translate(6.60,0)" d="M0.6,8.8 L0.6,10.2"/><path vector-effect="non-scaling-stroke" transform="translate(13.00,0)" d="M0.2,2.3 C0.6,0.8 1.6,0 2.9,0 C4.4,0 5.3,1 5.3,2.6 C5.3,4.4 3.9,5.4 0,10 L5.4,10"/><path vector-effect="non-scaling-stroke" transform="translate(19.40,0)" d="M0.6,8.8 L0.6,10.2"/><path vector-effect="non-scaling-stroke" transform="translate(21.60,0)" d="M0,0 L5.4,0 L1.9,10"/><path vector-effect="non-scaling-stroke" transform="translate(28.00,0)" d="M2.7,0 C0.9,0 0,2 0,5 C0,8 0.9,10 2.7,10 C4.5,10 5.4,8 5.4,5 C5.4,2 4.5,0 2.7,0 Z"/></g>
<g transform="translate(201.9,392.5) rotate(0) scale(0.9282,1.4000) translate(0,-10)" stroke="#686868" stroke-width="1.7" fill="none" vector-effect="non-scaling-stroke"><path vector-effect="non-scaling-stroke" transform="translate(0.00,0)" d="M0,10 L0,0 L3.3,7 L6.6,0 L6.6,10"/><path vector-effect="non-scaling-stroke" transform="translate(7.60,0)" d="M4.8,3 L4.8,13.5 M4.8,5 C4.4,3.7 3.5,3 2.4,3 C0.9,3 0,4.5 0,6.5 C0,8.5 0.9,10 2.4,10 C3.5,10 4.4,9.3 4.8,8"/><path vector-effect="non-scaling-stroke" transform="translate(13.40,0)" d="M0.6,8.8 L0.6,10.2"/><path vector-effect="non-scaling-stroke" transform="translate(19.80,0)" d="M0.4,2 L2.4,0 L2.4,10 M0.6,10 L4.2,10"/><path vector-effect="non-scaling-stroke" transform="translate(24.40,0)" d="M4.2,10 L4.2,0 L0,7.2 L5.6,7.2"/><path vector-effect="non-scaling-stroke" transform="translate(31.00,0)" d="M0.6,8.8 L0.6,10.2"/><path vector-effect="non-scaling-stroke" transform="translate(33.20,0)" d="M0.4,2 L2.4,0 L2.4,10 M0.6,10 L4.2,10"/><path vector-effect="non-scaling-stroke" transform="translate(37.80,0)" d="M2.7,0 C0.9,0 0,2 0,5 C0,8 0.9,10 2.7,10 C4.5,10 5.4,8 5.4,5 C5.4,2 4.5,0 2.7,0 Z"/></g>
<line x1="199" y1="394.7" x2="253.5" y2="394.7"/>
<g transform="translate(201.9,414.5) rotate(0) scale(0.9749,1.4100) translate(0,-10)" stroke="#686868" stroke-width="1.7" fill="none" vector-effect="non-scaling-stroke"><path vector-effect="non-scaling-stroke" transform="translate(0.00,0)" d="M5.3,1.6 C4.8,0.5 3.9,0 2.8,0 C1.3,0 0.3,0.9 0.3,2.4 C0.3,5.6 5.6,4.3 5.6,7.5 C5.6,9.1 4.5,10 2.9,10 C1.6,10 0.6,9.4 0,8.3"/><path vector-effect="non-scaling-stroke" transform="translate(6.60,0)" d="M0.6,8.8 L0.6,10.2"/><path vector-effect="non-scaling-stroke" transform="translate(8.80,0)" d="M5,0 L0,0 L0,10 M0,5 L4.2,5"/><path vector-effect="non-scaling-stroke" transform="translate(14.80,0)" d="M0.6,8.8 L0.6,10.2"/><path vector-effect="non-scaling-stroke" transform="translate(21.20,0)" d="M0.4,2 L2.4,0 L2.4,10 M0.6,10 L4.2,10"/><path vector-effect="non-scaling-stroke" transform="translate(25.80,0)" d="M0.6,8.8 L0.6,10.2"/><path vector-effect="non-scaling-stroke" transform="translate(28.00,0)" d="M0.5,8.8 C1,9.6 1.8,10 2.6,10 C4.4,10 5.4,8 5.4,4.5 C5.4,1.5 4.4,0 2.6,0 C1,0 0,1.3 0,3.2 C0,5 1,6.3 2.6,6.3 C3.9,6.3 4.9,5.5 5.4,4.2"/><path vector-effect="non-scaling-stroke" transform="translate(34.40,0)" d="M5,0 L0.8,0 L0.4,4.6 C1,4 1.9,3.7 2.8,3.7 C4.4,3.7 5.4,4.9 5.4,6.8 C5.4,8.8 4.3,10 2.7,10 C1.5,10 0.6,9.5 0,8.5"/></g>
<line x1="199" y1="416.5" x2="253.5" y2="416.5"/>
<g transform="translate(201.9,435.5) rotate(0) scale(1.0461,1.3900) translate(0,-10)" stroke="#686868" stroke-width="1.7" fill="none" vector-effect="non-scaling-stroke"><path vector-effect="non-scaling-stroke" transform="translate(0.00,0)" d="M0,10 L0,0 L3.3,0 C4.8,0 5.6,1 5.6,2.6 C5.6,4.2 4.8,5.2 3.3,5.2 L0,5.2 M3,5.2 L5.6,10"/><path vector-effect="non-scaling-stroke" transform="translate(6.60,0)" d="M0.6,8.8 L0.6,10.2"/><path vector-effect="non-scaling-stroke" transform="translate(8.80,0)" d="M0,0 L0,10"/><path vector-effect="non-scaling-stroke" transform="translate(9.80,0)" d="M0.6,8.8 L0.6,10.2"/><path vector-effect="non-scaling-stroke" transform="translate(16.20,0)" d="M2.7,0 C0.9,0 0,2 0,5 C0,8 0.9,10 2.7,10 C4.5,10 5.4,8 5.4,5 C5.4,2 4.5,0 2.7,0 Z"/><path vector-effect="non-scaling-stroke" transform="translate(22.60,0)" d="M0.6,8.8 L0.6,10.2"/><path vector-effect="non-scaling-stroke" transform="translate(24.80,0)" d="M0.4,2 L2.4,0 L2.4,10 M0.6,10 L4.2,10"/><path vector-effect="non-scaling-stroke" transform="translate(29.40,0)" d="M0.3,1.8 C0.8,0.6 1.7,0 2.9,0 C4.3,0 5.1,1 5.1,2.4 C5.1,3.9 4.1,4.8 2.5,4.8 M2.5,4.8 C4.4,4.8 5.4,5.9 5.4,7.4 C5.4,9.1 4.3,10 2.8,10 C1.5,10 0.5,9.4 0,8.3"/><path vector-effect="non-scaling-stroke" transform="translate(35.80,0)" d="M2.7,4.8 C1.3,4.8 0.4,3.9 0.4,2.4 C0.4,1 1.3,0 2.7,0 C4.1,0 5,1 5,2.4 C5,3.9 4.1,4.8 2.7,4.8 C1.1,4.8 0,5.9 0,7.4 C0,9 1.1,10 2.7,10 C4.3,10 5.4,9 5.4,7.4 C5.4,5.9 4.3,4.8 2.7,4.8 Z"/></g>
<line x1="199" y1="437.2" x2="252" y2="437.2"/>
<g transform="translate(194,391) rotate(-90) scale(1.2083,1.2800) translate(0,-10)" stroke="#777777" stroke-width="1.95" fill="none" vector-effect="non-scaling-stroke"><path vector-effect="non-scaling-stroke" transform="translate(0.00,0)" d="M0.3,1.8 C0.8,0.6 1.7,0 2.9,0 C4.3,0 5.1,1 5.1,2.4 C5.1,3.9 4.1,4.8 2.5,4.8 M2.5,4.8 C4.4,4.8 5.4,5.9 5.4,7.4 C5.4,9.1 4.3,10 2.8,10 C1.5,10 0.5,9.4 0,8.3"/><path vector-effect="non-scaling-stroke" transform="translate(7.60,0)" d="M0.6,8.8 L0.6,10.2"/><path vector-effect="non-scaling-stroke" transform="translate(11.00,0)" d="M2.7,0 C0.9,0 0,2 0,5 C0,8 0.9,10 2.7,10 C4.5,10 5.4,8 5.4,5 C5.4,2 4.5,0 2.7,0 Z"/><path vector-effect="non-scaling-stroke" transform="translate(18.60,0)" d="M2.7,0 C0.9,0 0,2 0,5 C0,8 0.9,10 2.7,10 C4.5,10 5.4,8 5.4,5 C5.4,2 4.5,0 2.7,0 Z"/></g>
<g transform="translate(414.9,391) rotate(-90) scale(1.2083,1.2800) translate(0,-10)" stroke="#777777" stroke-width="1.95" fill="none" vector-effect="non-scaling-stroke"><path vector-effect="non-scaling-stroke" transform="translate(0.00,0)" d="M0.3,1.8 C0.8,0.6 1.7,0 2.9,0 C4.3,0 5.1,1 5.1,2.4 C5.1,3.9 4.1,4.8 2.5,4.8 M2.5,4.8 C4.4,4.8 5.4,5.9 5.4,7.4 C5.4,9.1 4.3,10 2.8,10 C1.5,10 0.5,9.4 0,8.3"/><path vector-effect="non-scaling-stroke" transform="translate(7.60,0)" d="M0.6,8.8 L0.6,10.2"/><path vector-effect="non-scaling-stroke" transform="translate(11.00,0)" d="M2.7,0 C0.9,0 0,2 0,5 C0,8 0.9,10 2.7,10 C4.5,10 5.4,8 5.4,5 C5.4,2 4.5,0 2.7,0 Z"/><path vector-effect="non-scaling-stroke" transform="translate(18.60,0)" d="M2.7,0 C0.9,0 0,2 0,5 C0,8 0.9,10 2.7,10 C4.5,10 5.4,8 5.4,5 C5.4,2 4.5,0 2.7,0 Z"/></g>
<g transform="translate(281.8,449) rotate(0) scale(1.3430,1.1000) translate(0,-10)" stroke="#777777" stroke-width="1.95" fill="none" vector-effect="non-scaling-stroke"><path vector-effect="non-scaling-stroke" transform="translate(0.00,0)" d="M4.2,10 L4.2,0 L0,7.2 L5.6,7.2"/><path vector-effect="non-scaling-stroke" transform="translate(7.80,0)" d="M0.6,8.8 L0.6,10.2"/><path vector-effect="non-scaling-stroke" transform="translate(11.20,0)" d="M0,0 L5.4,0 L1.9,10"/><path vector-effect="non-scaling-stroke" transform="translate(18.80,0)" d="M2.7,0 C0.9,0 0,2 0,5 C0,8 0.9,10 2.7,10 C4.5,10 5.4,8 5.4,5 C5.4,2 4.5,0 2.7,0 Z"/></g>
<path d="M251,455.6 L251,461.1 L337.7,461.1 L337.7,455.6"/>
<line x1="254.9" y1="461.1" x2="254.9" y2="479.5"/>
<line x1="334" y1="461.1" x2="334" y2="479.5"/>
<path d="M249.4,479.5 L249.4,484.3 L339.3,484.3 L339.3,479.5"/>
<line x1="167.1" y1="479.3" x2="249.4" y2="479.3"/>
<line x1="294.2" y1="471.6" x2="294.2" y2="518.6"/>
<g transform="translate(292.5,516.5) rotate(-90) skewX(-15) scale(1.4368,1.2500) translate(0,-10)" stroke="#707070" stroke-width="2.1" fill="none" vector-effect="non-scaling-stroke"><path vector-effect="non-scaling-stroke" transform="translate(0.00,0)" d="M0.4,2 L2.4,0 L2.4,10 M0.6,10 L4.2,10"/><path vector-effect="non-scaling-stroke" transform="translate(5.10,0)" d="M5,0 L0.8,0 L0.4,4.6 C1,4 1.9,3.7 2.8,3.7 C4.4,3.7 5.4,4.9 5.4,6.8 C5.4,8.8 4.3,10 2.7,10 C1.5,10 0.6,9.5 0,8.5"/><path vector-effect="non-scaling-stroke" transform="translate(12.00,0)" d="M2.7,0 C0.9,0 0,2 0,5 C0,8 0.9,10 2.7,10 C4.5,10 5.4,8 5.4,5 C5.4,2 4.5,0 2.7,0 Z"/></g>
<g transform="translate(310.8,516.5) rotate(-90) skewX(-15) scale(1.4368,1.2500) translate(0,-10)" stroke="#707070" stroke-width="2.1" fill="none" vector-effect="non-scaling-stroke"><path vector-effect="non-scaling-stroke" transform="translate(0.00,0)" d="M0.4,2 L2.4,0 L2.4,10 M0.6,10 L4.2,10"/><path vector-effect="non-scaling-stroke" transform="translate(5.10,0)" d="M0.3,1.8 C0.8,0.6 1.7,0 2.9,0 C4.3,0 5.1,1 5.1,2.4 C5.1,3.9 4.1,4.8 2.5,4.8 M2.5,4.8 C4.4,4.8 5.4,5.9 5.4,7.4 C5.4,9.1 4.3,10 2.8,10 C1.5,10 0.5,9.4 0,8.3"/><path vector-effect="non-scaling-stroke" transform="translate(12.00,0)" d="M2.7,0 C0.9,0 0,2 0,5 C0,8 0.9,10 2.7,10 C4.5,10 5.4,8 5.4,5 C5.4,2 4.5,0 2.7,0 Z"/></g>
<path d="M339.3,479.3 L413.6,479.3 L413.6,492.5 L436.8,492.5"/>
<path d="M413.6,487.6 L411.5,487.6 Q393,516 408.6,545.8 L413.6,545.8"/>
<path d="M436.8,541.2 L413.6,541.2 L413.6,571.9 L482.1,571.9"/>
<line x1="437.4" y1="494.6" x2="437.4" y2="539.4" stroke-width="3.2"/>
<rect x="437" y="495" width="3" height="8" fill="#777" stroke="none"/>
<line x1="367.9" y1="517.5" x2="416.2" y2="517.5"/>
<g transform="translate(376,515.7) rotate(0) skewX(-15) scale(1.3821,1.3200) translate(0,-10)" stroke="#707070" stroke-width="2.1" fill="none" vector-effect="non-scaling-stroke"><path vector-effect="non-scaling-stroke" transform="translate(0.00,0)" d="M0.5,8.8 C1,9.6 1.8,10 2.6,10 C4.4,10 5.4,8 5.4,4.5 C5.4,1.5 4.4,0 2.6,0 C1,0 0,1.3 0,3.2 C0,5 1,6.3 2.6,6.3 C3.9,6.3 4.9,5.5 5.4,4.2"/><path vector-effect="non-scaling-stroke" transform="translate(6.90,0)" d="M2.7,0 C0.9,0 0,2 0,5 C0,8 0.9,10 2.7,10 C4.5,10 5.4,8 5.4,5 C5.4,2 4.5,0 2.7,0 Z"/></g>
<g transform="translate(367.5,532.4) rotate(0) skewX(-15) scale(1.3281,1.3200) translate(0,-10)" stroke="#707070" stroke-width="2.1" fill="none" vector-effect="non-scaling-stroke"><path vector-effect="non-scaling-stroke" transform="translate(0.00,0)" d="M0.2,2.3 C0.6,0.8 1.6,0 2.9,0 C4.4,0 5.3,1 5.3,2.6 C5.3,4.4 3.9,5.4 0,10 L5.4,10"/><path vector-effect="non-scaling-stroke" transform="translate(6.90,0)" d="M0.3,1.8 C0.8,0.6 1.7,0 2.9,0 C4.3,0 5.1,1 5.1,2.4 C5.1,3.9 4.1,4.8 2.5,4.8 M2.5,4.8 C4.4,4.8 5.4,5.9 5.4,7.4 C5.4,9.1 4.3,10 2.8,10 C1.5,10 0.5,9.4 0,8.3"/><path vector-effect="non-scaling-stroke" transform="translate(13.80,0)" d="M5,0 L0.8,0 L0.4,4.6 C1,4 1.9,3.7 2.8,3.7 C4.4,3.7 5.4,4.9 5.4,6.8 C5.4,8.8 4.3,10 2.7,10 C1.5,10 0.6,9.5 0,8.5"/></g>
<path d="M327.7,200.5 L385.4,200.5 L385.4,226.8 L422.5,226.8"/>
<rect x="362.0" y="196.6" width="9" height="8" rx="2.5" fill="#6a6a6a" stroke="none"/>
<line x1="333" y1="201" x2="362" y2="201" stroke-width="3"/>
<path d="M373,200.5 L373,208 L378.5,208 L378.5,232 L422.4,232"/>
<path d="M327.7,200.5 L332.5,200.5 L332.5,207.7 L327.7,207.7 L327.7,213.6 L319.5,213.6"/>
<path d="M319.5,254.7 L327.4,254.7 L327.4,289.5 L342.2,289.5 L342.2,298.4"/>
<line x1="342.2" y1="294.7" x2="384" y2="294.7"/>
<line x1="384" y1="289.5" x2="384" y2="294.7"/>
<rect x="345.0" y="292.25" width="10" height="2.5" rx="2.5" fill="#6a6a6a" stroke="none"/>
<rect x="348.0" y="297.5" width="8" height="2" rx="2.5" fill="#6a6a6a" stroke="none"/>
<line x1="384" y1="289.9" x2="422.4" y2="289.9"/>
<line x1="422.4" y1="232" x2="422.4" y2="243"/>
<rect x="418.1" y="243.0" width="9" height="8" rx="2.5" fill="#6a6a6a" stroke="none"/>
<line x1="422.4" y1="250" x2="422.4" y2="281.1" stroke-width="3"/>
<line x1="422.4" y1="281.1" x2="437.2" y2="281.1"/>
<line x1="339" y1="207" x2="339" y2="231"/>
<line x1="339" y1="265" x2="339" y2="288.5"/>
<line x1="409" y1="231.4" x2="409" y2="246"/>
<line x1="409" y1="275" x2="409" y2="289"/>
<line x1="333.5" y1="283.5" x2="344.5" y2="294.5"/>
<line x1="403.5" y1="226.5" x2="414.5" y2="237.5"/>
<line x1="403.5" y1="282.9" x2="414.5" y2="293.9"/>
<line x1="403.5" y1="292.7" x2="414.5" y2="303.7"/>
<g transform="translate(348.5,246.5) rotate(0) scale(1.7872,2.1400) translate(0,-10)" stroke="#7a7a7a" stroke-width="1.7" fill="none" vector-effect="non-scaling-stroke"><path vector-effect="non-scaling-stroke" transform="translate(0.00,0)" d="M0,10 L3,0 L6,10 M1.1,6.6 L4.9,6.6"/><path vector-effect="non-scaling-stroke" transform="translate(7.80,0)" d="M0.9,0.4 L0.9,8.6 C0.9,9.5 1.4,10 2.6,10 M0,3 L2.6,3"/><path vector-effect="non-scaling-stroke" transform="translate(12.20,0)" d="M0,3 L0,10 M0,5.6 C0.5,3.9 1.4,3 2.8,3"/><path vector-effect="non-scaling-stroke" transform="translate(16.80,0)" d="M0,3 L0,10 M0,0.2 L0,0.9"/><path vector-effect="non-scaling-stroke" transform="translate(18.60,0)" d="M2.45,3 C0.9,3 0,4.5 0,6.5 C0,8.5 0.9,10 2.45,10 C4,10 4.9,8.5 4.9,6.5 C4.9,4.5 4,3 2.45,3 Z"/></g>
<g transform="translate(354.2,263.7) rotate(0) scale(0.9341,1.4600) translate(0,-10)" stroke="#686868" stroke-width="1.7" fill="none" vector-effect="non-scaling-stroke"><path vector-effect="non-scaling-stroke" transform="translate(0.00,0)" d="M0,0 L0,10 M5.6,0 L5.6,10 M0,5 L5.6,5"/><path vector-effect="non-scaling-stroke" transform="translate(6.60,0)" d="M0.6,8.8 L0.6,10.2"/><path vector-effect="non-scaling-stroke" transform="translate(13.00,0)" d="M0.2,2.3 C0.6,0.8 1.6,0 2.9,0 C4.4,0 5.3,1 5.3,2.6 C5.3,4.4 3.9,5.4 0,10 L5.4,10"/><path vector-effect="non-scaling-stroke" transform="translate(19.40,0)" d="M0.6,8.8 L0.6,10.2"/><path vector-effect="non-scaling-stroke" transform="translate(21.60,0)" d="M0,0 L5.4,0 L1.9,10"/><path vector-effect="non-scaling-stroke" transform="translate(28.00,0)" d="M2.7,0 C0.9,0 0,2 0,5 C0,8 0.9,10 2.7,10 C4.5,10 5.4,8 5.4,5 C5.4,2 4.5,0 2.7,0 Z"/></g>
<g transform="translate(353.7,280.8) rotate(0) scale(0.7847,1.2000) translate(0,-10)" stroke="#686868" stroke-width="1.7" fill="none" vector-effect="non-scaling-stroke"><path vector-effect="non-scaling-stroke" transform="translate(0.00,0)" d="M0,10 L0,0 L3.3,7 L6.6,0 L6.6,10"/><path vector-effect="non-scaling-stroke" transform="translate(7.60,0)" d="M4.8,3 L4.8,13.5 M4.8,5 C4.4,3.7 3.5,3 2.4,3 C0.9,3 0,4.5 0,6.5 C0,8.5 0.9,10 2.4,10 C3.5,10 4.4,9.3 4.8,8"/><path vector-effect="non-scaling-stroke" transform="translate(13.40,0)" d="M0.6,8.8 L0.6,10.2"/><path vector-effect="non-scaling-stroke" transform="translate(19.80,0)" d="M0.2,2.3 C0.6,0.8 1.6,0 2.9,0 C4.4,0 5.3,1 5.3,2.6 C5.3,4.4 3.9,5.4 0,10 L5.4,10"/><path vector-effect="non-scaling-stroke" transform="translate(26.20,0)" d="M0.6,8.8 L0.6,10.2"/><path vector-effect="non-scaling-stroke" transform="translate(28.40,0)" d="M4.2,10 L4.2,0 L0,7.2 L5.6,7.2"/><path vector-effect="non-scaling-stroke" transform="translate(35.00,0)" d="M0.3,1.8 C0.8,0.6 1.7,0 2.9,0 C4.3,0 5.1,1 5.1,2.4 C5.1,3.9 4.1,4.8 2.5,4.8 M2.5,4.8 C4.4,4.8 5.4,5.9 5.4,7.4 C5.4,9.1 4.3,10 2.8,10 C1.5,10 0.5,9.4 0,8.3"/></g>
<line x1="350.3" y1="283.4" x2="395.6" y2="283.4"/>
<g transform="translate(347.5,265) rotate(-90) scale(1.3964,1.1700) translate(0,-10)" stroke="#777777" stroke-width="1.95" fill="none" vector-effect="non-scaling-stroke"><path vector-effect="non-scaling-stroke" transform="translate(0.00,0)" d="M0.4,2 L2.4,0 L2.4,10 M0.6,10 L4.2,10"/><path vector-effect="non-scaling-stroke" transform="translate(5.80,0)" d="M0.6,8.8 L0.6,10.2"/><path vector-effect="non-scaling-stroke" transform="translate(9.20,0)" d="M5,0 L0.8,0 L0.4,4.6 C1,4 1.9,3.7 2.8,3.7 C4.4,3.7 5.4,4.9 5.4,6.8 C5.4,8.8 4.3,10 2.7,10 C1.5,10 0.6,9.5 0,8.5"/><path vector-effect="non-scaling-stroke" transform="translate(16.80,0)" d="M5,0 L0.8,0 L0.4,4.6 C1,4 1.9,3.7 2.8,3.7 C4.4,3.7 5.4,4.9 5.4,6.8 C5.4,8.8 4.3,10 2.7,10 C1.5,10 0.6,9.5 0,8.5"/></g>
<g transform="translate(414.7,272) rotate(-90) scale(1.1520,1.1700) translate(0,-10)" stroke="#777777" stroke-width="1.95" fill="none" vector-effect="non-scaling-stroke"><path vector-effect="non-scaling-stroke" transform="translate(0.00,0)" d="M0.4,2 L2.4,0 L2.4,10 M0.6,10 L4.2,10"/><path vector-effect="non-scaling-stroke" transform="translate(5.80,0)" d="M0.6,8.8 L0.6,10.2"/><path vector-effect="non-scaling-stroke" transform="translate(9.20,0)" d="M0.4,2 L2.4,0 L2.4,10 M0.6,10 L4.2,10"/><path vector-effect="non-scaling-stroke" transform="translate(15.00,0)" d="M2.7,0 C0.9,0 0,2 0,5 C0,8 0.9,10 2.7,10 C4.5,10 5.4,8 5.4,5 C5.4,2 4.5,0 2.7,0 Z"/></g>
</g>
</svg>
</body></html>
